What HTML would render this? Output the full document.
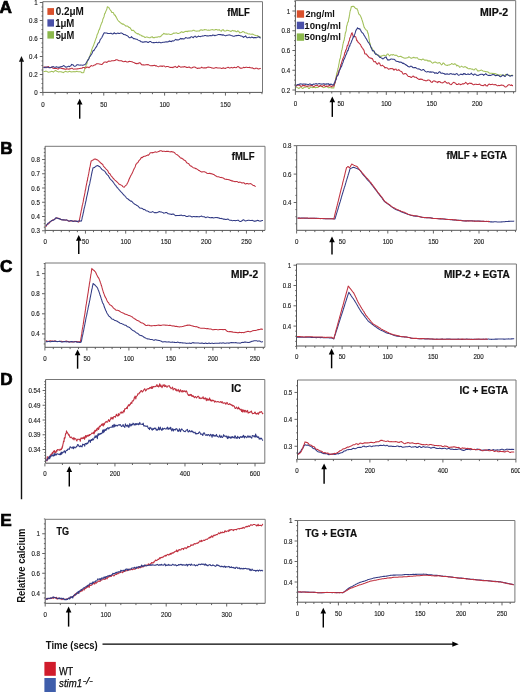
<!DOCTYPE html>
<html><head><meta charset="utf-8"><style>
html,body{margin:0;padding:0;background:#fff;}
body{width:520px;height:692px;overflow:hidden;}
svg{display:block;filter:blur(0.35px);}
text{font-family:"Liberation Sans",sans-serif;}
.tk{font-size:7.1px;fill:#222;stroke:#222;stroke-width:0.15px;}
.ttl{font-size:10px;font-weight:bold;fill:#111;}
.lg{font-size:9.8px;font-weight:bold;fill:#111;}
.big{font-size:17.2px;font-weight:bold;fill:#000;stroke:#000;stroke-width:0.7px;}
.ax{font-size:9.5px;font-weight:bold;fill:#000;}
.lgb{font-size:9.5px;fill:#000;}
</style></head><body>
<svg width="520" height="692" viewBox="0 0 520 692">
<rect width="520" height="692" fill="#fff"/>
<path d="M42.8 1.7H262.5V92.4" fill="none" stroke="#777" stroke-width="1"/>
<path d="M42.8 1.7V92.4H262.5" fill="none" stroke="#555" stroke-width="1"/>
<path d="M42.90 92.4v3.2M55.07 92.4v1.8M67.24 92.4v1.8M79.41 92.4v1.8M91.58 92.4v1.8M103.75 92.4v3.2M115.92 92.4v1.8M128.09 92.4v1.8M140.26 92.4v1.8M152.43 92.4v1.8M164.60 92.4v3.2M176.77 92.4v1.8M188.94 92.4v1.8M201.11 92.4v1.8M213.28 92.4v1.8M225.45 92.4v3.2M237.62 92.4v1.8M249.79 92.4v1.8M261.96 92.4v1.8" stroke="#555" stroke-width="0.9"/>
<path d="M42.8 92.50h-3.0M42.8 88.00h-1.3M42.8 83.50h-1.3M42.8 79.00h-1.3M42.8 74.50h-3.0M42.8 70.00h-1.3M42.8 65.50h-1.3M42.8 61.00h-1.3M42.8 56.50h-3.0M42.8 52.00h-1.3M42.8 47.50h-1.3M42.8 43.00h-1.3M42.8 38.50h-3.0M42.8 34.00h-1.3M42.8 29.50h-1.3M42.8 25.00h-1.3M42.8 20.50h-3.0M42.8 16.00h-1.3M42.8 11.50h-1.3M42.8 7.00h-1.3M42.8 2.50h-3.0" stroke="#555" stroke-width="0.9"/>
<text x="37.60" y="95.00" class="tk" text-anchor="end" textLength="3.43" lengthAdjust="spacingAndGlyphs">0</text>
<text x="37.60" y="77.00" class="tk" text-anchor="end" textLength="8.59" lengthAdjust="spacingAndGlyphs">0.2</text>
<text x="37.60" y="59.00" class="tk" text-anchor="end" textLength="8.59" lengthAdjust="spacingAndGlyphs">0.4</text>
<text x="37.60" y="41.00" class="tk" text-anchor="end" textLength="8.59" lengthAdjust="spacingAndGlyphs">0.6</text>
<text x="37.60" y="23.00" class="tk" text-anchor="end" textLength="8.59" lengthAdjust="spacingAndGlyphs">0.8</text>
<text x="37.60" y="5.00" class="tk" text-anchor="end" textLength="3.43" lengthAdjust="spacingAndGlyphs">1</text>
<text x="42.90" y="107.00" class="tk" text-anchor="middle" textLength="3.43" lengthAdjust="spacingAndGlyphs">0</text>
<text x="103.75" y="107.00" class="tk" text-anchor="middle" textLength="6.87" lengthAdjust="spacingAndGlyphs">50</text>
<text x="164.60" y="107.00" class="tk" text-anchor="middle" textLength="10.30" lengthAdjust="spacingAndGlyphs">100</text>
<text x="225.45" y="107.00" class="tk" text-anchor="middle" textLength="10.30" lengthAdjust="spacingAndGlyphs">150</text>
<path d="M43.50 71.60 44.21 71.52 44.91 71.51 45.62 71.13 46.33 71.15 47.04 71.54 47.74 71.91 48.45 72.25 49.16 72.03 49.86 72.03 50.57 71.81 51.28 71.31 51.98 71.44 52.69 71.53 53.40 72.12 54.11 71.45 54.81 70.86 55.52 70.50 56.23 70.83 56.93 71.39 57.64 71.62 58.35 71.89 59.05 71.65 59.76 71.75 60.47 71.73 61.18 71.73 61.88 72.11 62.59 72.17 63.30 72.67 64.00 72.06 64.71 71.72 65.42 71.32 66.12 71.46 66.83 71.84 67.54 72.00 68.25 71.92 68.95 71.51 69.66 71.31 70.37 71.76 71.07 71.81 71.78 72.03 72.49 71.82 73.19 71.65 73.90 71.61 74.61 71.85 75.32 71.72 76.02 71.63 76.73 71.26 77.44 71.59 78.14 71.82 78.85 71.84 79.56 71.67 80.26 71.77 80.97 71.97 81.68 72.63 82.39 72.80 83.09 72.72 83.80 72.51 84.04 71.12 84.28 70.52 84.52 69.66 84.76 69.22 85.00 68.06 85.24 67.30 85.49 66.61 85.73 66.63 85.97 65.68 86.21 64.77 86.45 63.83 86.69 64.09 86.93 63.97 87.17 62.73 87.41 61.01 87.65 60.29 87.89 59.93 88.13 59.64 88.38 59.14 88.62 58.97 88.86 58.65 89.10 57.79 89.34 56.94 89.58 56.66 89.82 56.10 90.06 55.46 90.30 54.51 90.54 53.27 90.78 52.81 91.02 52.25 91.27 52.14 91.51 50.61 91.75 49.52 91.99 48.94 92.23 48.32 92.47 47.78 92.71 47.16 92.95 46.63 93.19 46.44 93.43 45.66 93.67 45.30 93.91 44.29 94.16 43.66 94.40 43.06 94.64 42.62 94.88 41.60 95.12 40.80 95.36 40.11 95.60 39.62 95.84 38.84 96.08 38.15 96.32 37.87 96.56 37.32 96.80 36.03 97.04 34.94 97.29 34.36 97.53 33.98 97.77 33.73 98.01 32.83 98.25 32.58 98.49 31.20 98.73 30.60 98.97 29.77 99.21 29.75 99.45 29.52 99.69 28.78 99.93 27.85 100.18 27.00 100.42 26.40 100.66 25.65 100.90 25.02 101.14 24.35 101.38 23.73 101.62 23.20 101.86 22.53 102.10 22.41 102.34 21.62 102.58 20.69 102.82 19.39 103.07 18.64 103.31 18.34 103.55 17.68 103.79 17.12 104.03 16.70 104.27 15.44 104.51 14.38 104.75 13.29 104.99 13.41 105.23 13.11 105.47 12.27 105.71 11.67 105.96 11.02 106.20 10.33 106.44 10.14 106.68 9.50 106.92 8.82 107.16 7.48 107.40 6.67 107.89 7.33 108.38 7.16 108.88 7.62 109.37 8.43 109.86 9.38 110.35 10.02 110.85 10.54 111.34 11.61 111.83 12.56 112.32 12.38 112.82 12.59 113.31 12.63 113.80 13.78 114.19 14.75 114.58 14.71 114.97 15.42 115.37 15.32 115.76 16.80 116.15 16.70 116.54 17.71 116.93 18.43 117.33 19.38 117.72 19.96 118.11 20.44 118.50 21.10 119.13 21.44 119.75 22.06 120.38 22.72 121.01 23.08 121.64 23.82 122.26 23.66 122.89 24.40 123.52 24.01 124.15 24.77 124.77 25.13 125.40 25.68 126.03 26.24 126.65 26.06 127.28 26.02 127.91 26.43 128.54 27.00 129.16 27.54 129.79 27.40 130.42 28.42 131.05 29.31 131.67 30.51 132.30 30.34 132.93 30.56 133.55 30.28 134.18 31.16 134.81 32.00 135.44 32.48 136.06 33.11 136.69 33.37 137.32 33.98 137.95 33.45 138.57 33.98 139.20 34.42 139.90 35.02 140.60 34.98 141.30 35.35 142.00 36.14 142.70 35.99 143.40 36.41 144.10 36.64 144.80 37.53 145.50 37.41 146.20 37.04 146.96 37.05 147.71 37.25 148.47 37.60 149.22 37.83 149.98 37.85 150.73 37.33 151.49 36.97 152.24 36.67 153.00 37.62 153.70 37.59 154.40 37.70 155.10 37.26 155.80 37.18 156.50 37.14 157.20 37.28 157.90 36.82 158.60 36.85 159.30 36.68 160.00 36.90 160.76 36.21 161.52 35.80 162.28 34.64 163.04 34.29 163.80 33.29 164.52 33.99 165.23 33.87 165.95 34.32 166.67 33.90 167.39 34.14 168.10 33.91 168.82 33.94 169.54 34.35 170.26 34.44 170.97 34.44 171.69 34.15 172.41 34.00 173.12 33.45 173.84 32.95 174.56 33.21 175.28 33.03 175.99 32.94 176.71 32.84 177.43 33.41 178.14 33.50 178.86 33.36 179.58 33.12 180.30 32.72 181.01 32.01 181.73 31.72 182.45 32.20 183.17 32.38 183.88 32.23 184.60 31.70 185.32 31.35 186.03 31.46 186.75 31.26 187.47 31.67 188.19 30.97 188.90 31.28 189.62 30.91 190.34 30.93 191.06 30.94 191.77 30.94 192.49 30.76 193.21 30.24 193.92 30.29 194.64 30.67 195.36 31.02 196.08 31.04 196.79 31.24 197.51 31.03 198.23 31.09 198.94 30.99 199.66 30.92 200.38 29.92 201.10 29.88 201.81 30.02 202.53 30.40 203.25 29.93 203.97 30.01 204.68 29.52 205.40 29.67 206.13 29.83 206.85 30.08 207.58 30.16 208.31 30.04 209.03 30.29 209.76 30.28 210.48 30.04 211.21 29.86 211.94 29.71 212.66 29.58 213.39 30.06 214.12 30.10 214.84 30.00 215.57 29.54 216.29 29.48 217.02 29.79 217.75 30.12 218.47 30.01 219.20 29.58 219.91 30.31 220.62 30.88 221.33 31.32 222.05 29.97 222.76 29.88 223.47 29.88 224.18 31.07 224.89 31.06 225.60 30.96 226.32 30.70 227.03 30.11 227.74 30.45 228.45 30.44 229.16 30.82 229.87 30.95 230.58 31.39 231.30 31.25 232.01 30.76 232.72 30.40 233.43 30.87 234.14 30.99 234.85 30.70 235.57 31.26 236.28 31.69 236.99 31.68 237.70 30.80 238.39 31.13 239.08 31.86 239.77 32.85 240.46 32.77 241.15 32.42 241.84 32.15 242.53 31.51 243.22 31.69 243.91 31.76 244.60 32.62 245.29 32.78 245.98 32.91 246.67 33.05 247.36 33.49 248.05 33.84 248.74 33.93 249.43 33.89 250.12 34.08 250.81 34.19 251.50 34.20 252.22 34.03 252.93 34.23 253.65 34.63 254.36 35.04 255.08 35.25 255.79 35.53 256.51 35.66 257.22 35.54 257.94 35.81 258.65 36.33 259.37 36.99 260.08 37.04 260.80 37.00" fill="none" stroke="#a2c05a" stroke-width="1.05" stroke-linejoin="round"/>
<path d="M43.50 67.39 44.20 66.98 44.91 66.90 45.61 66.93 46.31 67.65 47.02 67.37 47.72 66.94 48.43 66.49 49.13 67.22 49.83 67.84 50.54 67.78 51.24 67.17 51.94 67.44 52.65 67.96 53.35 68.23 54.06 68.51 54.76 68.59 55.46 68.56 56.17 68.34 56.87 68.62 57.57 68.90 58.28 69.04 58.98 68.33 59.69 68.06 60.39 68.00 61.09 68.23 61.80 68.58 62.50 68.57 63.20 68.91 63.91 68.59 64.61 69.13 65.31 69.24 66.02 69.26 66.72 68.63 67.43 69.01 68.13 69.00 68.83 69.23 69.54 68.83 70.24 68.94 70.94 68.42 71.65 68.23 72.35 68.35 73.06 68.98 73.76 69.16 74.46 69.09 75.17 69.04 75.87 69.00 76.57 69.07 77.28 68.88 77.98 68.69 78.69 68.84 79.39 68.57 80.09 68.49 80.80 68.33 81.50 68.24 82.19 68.12 82.87 67.40 83.56 67.44 84.25 67.53 84.94 68.04 85.62 68.03 86.31 67.64 87.00 66.93 87.69 67.26 88.37 67.28 89.06 67.77 89.75 66.87 90.43 66.51 91.12 65.56 91.81 65.82 92.50 65.95 93.18 65.75 93.87 65.35 94.56 65.09 95.24 64.95 95.93 64.30 96.62 63.67 97.31 63.80 97.99 63.74 98.68 63.85 99.37 63.91 100.06 64.28 100.74 64.28 101.43 64.44 102.12 64.40 102.80 63.69 103.49 62.97 104.18 62.21 104.87 62.09 105.55 62.03 106.24 62.14 106.93 62.38 107.61 61.80 108.30 61.29 108.99 60.98 109.68 61.17 110.36 61.24 111.05 61.05 111.74 60.73 112.43 60.82 113.11 60.76 113.80 60.76 114.51 60.46 115.22 60.39 115.93 59.76 116.65 59.74 117.36 59.87 118.07 60.26 118.78 60.65 119.49 60.75 120.20 60.85 120.92 60.80 121.63 60.74 122.34 61.30 123.05 61.60 123.76 61.75 124.47 61.46 125.18 61.33 125.90 61.39 126.61 61.89 127.32 62.07 128.03 61.97 128.74 61.48 129.45 61.37 130.17 61.43 130.88 61.57 131.59 61.71 132.30 61.84 133.01 62.28 133.72 62.56 134.42 62.69 135.13 63.40 135.84 63.28 136.55 63.80 137.26 63.32 137.96 63.82 138.67 63.00 139.38 62.88 140.09 62.76 140.80 63.67 141.50 64.61 142.21 64.74 142.92 65.03 143.63 64.72 144.34 65.00 145.04 64.91 145.75 64.78 146.46 64.77 147.17 64.46 147.88 64.93 148.58 64.63 149.29 65.10 150.00 65.46 150.72 65.73 151.44 65.72 152.16 65.52 152.88 65.65 153.59 65.48 154.31 65.30 155.03 65.50 155.75 65.96 156.47 65.74 157.19 66.11 157.91 66.42 158.62 66.69 159.34 66.35 160.06 65.85 160.78 66.28 161.50 66.07 162.22 66.43 162.94 65.98 163.66 66.04 164.38 66.10 165.09 66.64 165.81 66.88 166.53 66.57 167.25 66.48 167.97 66.53 168.69 66.85 169.41 67.09 170.12 67.47 170.84 67.30 171.56 67.56 172.28 67.31 173.00 67.72 173.72 66.96 174.44 66.97 175.16 66.31 175.88 66.99 176.59 67.38 177.31 67.55 178.03 66.69 178.75 65.92 179.47 66.58 180.19 66.88 180.91 67.32 181.62 66.94 182.34 67.05 183.06 66.80 183.78 66.91 184.50 66.58 185.22 66.88 185.94 66.97 186.66 67.50 187.38 67.48 188.09 67.18 188.81 67.12 189.53 67.08 190.25 67.76 190.97 67.94 191.69 68.06 192.41 67.54 193.12 67.17 193.84 66.97 194.56 67.02 195.28 67.31 196.00 67.72 196.72 67.98 197.44 68.47 198.16 68.16 198.88 68.03 199.59 68.22 200.31 67.93 201.03 67.80 201.75 67.11 202.47 67.66 203.19 67.92 203.91 67.82 204.62 67.89 205.34 67.81 206.06 68.09 206.78 67.50 207.50 67.26 208.22 67.07 208.94 67.31 209.66 67.28 210.38 67.46 211.09 67.58 211.81 68.04 212.53 68.08 213.25 68.35 213.97 68.33 214.69 68.11 215.41 67.67 216.12 67.54 216.84 67.70 217.56 67.95 218.28 67.94 219.00 68.03 219.71 67.92 220.41 68.10 221.12 68.38 221.82 68.45 222.53 68.30 223.24 67.74 223.94 68.28 224.65 68.31 225.35 68.57 226.06 67.96 226.77 67.85 227.47 67.59 228.18 67.28 228.88 67.65 229.59 67.88 230.30 67.87 231.00 67.66 231.71 67.37 232.42 67.94 233.12 67.82 233.83 67.44 234.53 67.24 235.24 67.52 235.95 67.75 236.65 67.52 237.36 66.74 238.06 66.55 238.77 66.89 239.48 67.69 240.18 68.11 240.89 68.07 241.59 68.19 242.30 67.92 243.01 67.72 243.72 67.31 244.43 67.63 245.15 67.59 245.86 67.18 246.57 67.15 247.28 67.53 247.99 67.53 248.70 67.44 249.42 67.28 250.13 67.79 250.84 67.85 251.55 68.02 252.26 67.84 252.97 68.20 253.68 68.63 254.40 68.67 255.11 68.66 255.82 68.13 256.53 68.29 257.24 68.31 257.95 68.95 258.67 68.87 259.38 68.70 260.09 68.39 260.80 68.55" fill="none" stroke="#c0303f" stroke-width="1.05" stroke-linejoin="round"/>
<path d="M43.50 67.41 44.20 67.37 44.91 67.81 45.61 67.44 46.31 67.04 47.02 66.89 47.72 67.21 48.42 67.53 49.13 67.70 49.83 67.50 50.53 67.43 51.24 67.26 51.94 66.86 52.64 66.78 53.35 66.59 54.05 67.18 54.75 67.26 55.46 67.29 56.16 66.83 56.86 66.89 57.57 67.20 58.27 67.13 58.97 67.62 59.68 66.95 60.38 67.08 61.08 66.44 61.79 66.83 62.49 66.43 63.19 65.77 63.90 65.60 64.60 66.08 65.31 66.75 66.01 67.24 66.71 67.02 67.42 66.86 68.12 66.35 68.82 66.34 69.53 66.66 70.23 66.02 70.93 65.77 71.64 64.35 72.34 64.84 73.04 64.78 73.75 65.89 74.45 66.19 75.15 66.23 75.86 65.85 76.56 65.09 77.26 64.81 77.97 64.65 78.67 64.90 79.37 65.07 80.08 65.20 80.78 64.93 81.48 65.10 82.19 65.16 82.89 65.11 83.59 64.99 84.30 64.76 85.00 64.43 85.37 64.04 85.74 63.60 86.11 63.06 86.48 62.36 86.85 61.72 87.22 60.96 87.59 60.50 87.96 59.90 88.33 59.96 88.70 58.98 89.07 58.25 89.44 57.00 89.81 56.61 90.18 56.05 90.55 55.79 90.92 55.03 91.29 54.44 91.66 54.09 92.03 53.30 92.40 52.67 92.77 51.32 93.14 50.71 93.51 50.30 93.88 50.62 94.25 50.04 94.62 49.23 94.98 48.69 95.35 48.10 95.72 47.73 96.09 47.16 96.46 46.65 96.83 46.19 97.20 44.95 97.57 44.39 97.94 43.45 98.31 43.07 98.68 42.71 99.05 42.77 99.42 41.96 99.79 40.91 100.16 39.80 100.53 39.10 100.90 38.78 101.27 38.20 101.64 37.81 102.01 37.22 102.38 36.05 102.75 35.73 103.12 34.58 103.49 34.20 103.86 33.25 104.23 32.96 104.60 32.77 105.30 32.97 106.01 33.01 106.71 32.95 107.42 33.38 108.12 33.52 108.83 33.50 109.53 33.44 110.23 33.54 110.94 33.13 111.64 33.50 112.35 34.05 113.05 33.89 113.76 33.24 114.46 32.80 115.17 33.61 115.87 33.83 116.57 33.68 117.28 33.17 117.98 33.05 118.69 33.43 119.39 33.45 120.10 33.18 120.80 32.93 121.47 32.96 122.14 33.42 122.80 33.57 123.47 34.47 124.14 34.61 124.81 34.75 125.47 34.78 126.14 35.21 126.81 35.53 127.48 35.89 128.15 36.36 128.81 37.12 129.48 37.83 130.15 37.67 130.82 37.50 131.48 36.65 132.15 37.62 132.82 37.80 133.49 38.71 134.15 38.60 134.82 38.69 135.49 39.08 136.16 39.19 136.83 39.32 137.49 39.54 138.16 40.12 138.83 40.37 139.50 40.76 140.16 40.76 140.83 41.64 141.50 41.80 142.21 42.13 142.92 41.99 143.62 42.15 144.33 41.73 145.04 42.03 145.75 41.62 146.46 41.74 147.17 42.05 147.88 42.43 148.58 42.45 149.29 41.73 150.00 41.44 150.72 41.58 151.44 42.18 152.16 42.55 152.88 42.68 153.59 42.46 154.31 42.75 155.03 42.55 155.75 42.46 156.47 42.38 157.19 42.54 157.91 42.66 158.62 42.31 159.34 42.27 160.06 42.56 160.78 42.85 161.50 42.64 162.21 42.45 162.92 42.27 163.63 42.19 164.35 42.15 165.06 41.89 165.77 41.93 166.48 41.81 167.19 42.10 167.90 41.87 168.62 41.64 169.33 40.92 170.04 41.58 170.75 41.20 171.46 41.62 172.17 40.70 172.88 40.91 173.60 41.05 174.31 40.41 175.02 39.94 175.73 39.35 176.44 39.87 177.15 39.67 177.87 39.97 178.58 39.89 179.29 39.49 180.00 39.01 180.70 38.41 181.41 39.04 182.11 38.54 182.82 38.92 183.52 38.83 184.23 38.90 184.93 38.37 185.63 37.47 186.34 37.64 187.04 38.09 187.75 38.20 188.45 38.00 189.16 37.82 189.86 38.09 190.57 37.14 191.27 36.81 191.97 36.76 192.68 37.44 193.38 37.64 194.09 36.63 194.79 36.36 195.50 36.14 196.20 37.36 196.92 37.01 197.64 36.75 198.36 36.04 199.07 36.48 199.79 36.41 200.51 36.66 201.23 36.17 201.95 36.32 202.67 35.83 203.39 36.04 204.11 35.74 204.82 35.41 205.54 35.61 206.26 35.83 206.98 36.07 207.70 35.79 208.42 35.92 209.14 35.77 209.86 35.64 210.57 35.48 211.29 35.84 212.01 35.73 212.73 34.98 213.45 35.13 214.17 35.26 214.89 35.78 215.61 35.34 216.32 35.27 217.04 35.11 217.76 34.87 218.48 34.56 219.20 34.47 219.91 34.61 220.62 34.52 221.33 34.88 222.05 34.72 222.76 35.23 223.47 34.82 224.18 35.29 224.89 35.51 225.60 35.86 226.32 35.59 227.03 35.27 227.74 35.28 228.45 35.04 229.16 34.89 229.87 34.92 230.58 35.29 231.30 35.50 232.01 35.68 232.72 36.03 233.43 36.28 234.14 36.27 234.85 36.01 235.57 35.79 236.28 35.59 236.99 35.61 237.70 35.60 238.42 35.32 239.14 35.43 239.86 35.58 240.57 35.90 241.29 36.09 242.01 36.35 242.73 36.67 243.45 37.35 244.17 36.63 244.89 36.73 245.61 35.80 246.32 36.87 247.04 37.74 247.76 37.68 248.48 37.56 249.20 37.11 249.92 37.69 250.65 37.80 251.38 37.07 252.10 37.38 252.82 37.33 253.55 37.93 254.28 37.55 255.00 37.62 255.72 37.48 256.45 37.70 257.18 37.39 257.90 36.92 258.62 36.86 259.35 37.05 260.07 37.85 260.80 37.98" fill="none" stroke="#323b85" stroke-width="1.05" stroke-linejoin="round"/>
<path d="M295.4 0.6H515.7V91.7" fill="none" stroke="#777" stroke-width="1"/>
<path d="M295.4 0.6V91.7H515.7" fill="none" stroke="#555" stroke-width="1"/>
<path d="M295.40 91.7v3.2M304.49 91.7v1.8M313.58 91.7v1.8M322.67 91.7v1.8M331.76 91.7v1.8M340.85 91.7v3.2M349.94 91.7v1.8M359.03 91.7v1.8M368.12 91.7v1.8M377.21 91.7v1.8M386.30 91.7v3.2M395.39 91.7v1.8M404.48 91.7v1.8M413.57 91.7v1.8M422.66 91.7v1.8M431.75 91.7v3.2M440.84 91.7v1.8M449.93 91.7v1.8M459.02 91.7v1.8M468.11 91.7v1.8M477.20 91.7v3.2M486.29 91.7v1.8M495.38 91.7v1.8M504.47 91.7v1.8M513.56 91.7v1.8" stroke="#555" stroke-width="0.9"/>
<path d="M295.4 90.00h-3.0M295.4 85.06h-1.3M295.4 80.12h-1.3M295.4 75.19h-1.3M295.4 70.25h-3.0M295.4 65.31h-1.3M295.4 60.38h-1.3M295.4 55.44h-1.3M295.4 50.50h-3.0M295.4 45.56h-1.3M295.4 40.62h-1.3M295.4 35.69h-1.3M295.4 30.75h-3.0M295.4 25.81h-1.3M295.4 20.88h-1.3M295.4 15.94h-1.3M295.4 11.00h-3.0M295.4 6.06h-1.3M295.4 1.12h-1.3" stroke="#555" stroke-width="0.9"/>
<text x="290.20" y="92.50" class="tk" text-anchor="end" textLength="8.59" lengthAdjust="spacingAndGlyphs">0.2</text>
<text x="290.20" y="72.75" class="tk" text-anchor="end" textLength="8.59" lengthAdjust="spacingAndGlyphs">0.4</text>
<text x="290.20" y="53.00" class="tk" text-anchor="end" textLength="8.59" lengthAdjust="spacingAndGlyphs">0.6</text>
<text x="290.20" y="33.25" class="tk" text-anchor="end" textLength="8.59" lengthAdjust="spacingAndGlyphs">0.8</text>
<text x="290.20" y="13.50" class="tk" text-anchor="end" textLength="3.43" lengthAdjust="spacingAndGlyphs">1</text>
<text x="295.40" y="106.10" class="tk" text-anchor="middle" textLength="3.43" lengthAdjust="spacingAndGlyphs">0</text>
<text x="340.85" y="106.10" class="tk" text-anchor="middle" textLength="6.87" lengthAdjust="spacingAndGlyphs">50</text>
<text x="386.30" y="106.10" class="tk" text-anchor="middle" textLength="10.30" lengthAdjust="spacingAndGlyphs">100</text>
<text x="431.75" y="106.10" class="tk" text-anchor="middle" textLength="10.30" lengthAdjust="spacingAndGlyphs">150</text>
<text x="477.20" y="106.10" class="tk" text-anchor="middle" textLength="10.30" lengthAdjust="spacingAndGlyphs">200</text>
<path d="M296.00 86.96 296.70 87.31 297.40 87.63 298.10 88.04 298.80 88.48 299.50 88.14 300.20 87.13 300.90 86.77 301.60 87.55 302.30 88.46 303.00 88.45 303.70 87.76 304.40 87.23 305.10 87.26 305.80 87.16 306.50 86.81 307.20 86.21 307.90 87.30 308.60 88.49 309.30 88.59 310.00 87.56 310.70 87.02 311.40 87.00 312.10 87.65 312.80 87.55 313.50 87.45 314.20 87.45 314.90 87.28 315.60 87.70 316.30 87.28 317.00 87.37 317.70 87.40 318.40 87.18 319.10 86.69 319.80 85.88 320.50 85.70 321.20 86.05 321.90 86.74 322.60 87.17 323.30 87.59 324.00 87.63 324.70 87.36 325.40 86.96 326.10 86.24 326.80 86.44 327.50 86.82 328.20 87.67 328.90 87.69 329.60 87.47 330.30 87.61 331.00 87.65 331.70 87.94 332.40 87.83 333.10 87.89 333.80 88.07 333.95 87.01 334.10 86.14 334.25 84.78 334.39 84.02 334.54 83.94 334.69 84.08 334.84 83.65 334.99 82.65 335.14 81.77 335.29 81.33 335.44 80.85 335.58 79.38 335.73 78.23 335.88 77.30 336.03 77.48 336.18 77.03 336.33 75.92 336.48 74.66 336.63 73.72 336.77 73.04 336.92 72.94 337.07 72.26 337.22 71.86 337.37 71.38 337.52 71.27 337.67 70.68 337.82 69.11 337.96 68.17 338.11 67.90 338.26 67.60 338.41 67.19 338.56 66.01 338.71 65.29 338.86 64.13 339.01 63.55 339.15 63.11 339.30 62.03 339.45 61.19 339.60 60.16 339.75 59.74 339.90 58.98 340.05 58.46 340.20 58.60 340.34 58.21 340.49 57.38 340.64 55.55 340.79 55.28 340.94 54.51 341.09 54.31 341.24 52.64 341.39 51.91 341.53 50.88 341.68 50.58 341.83 50.06 341.98 49.73 342.13 49.11 342.28 48.00 342.43 47.76 342.58 46.77 342.72 45.77 342.87 44.57 343.02 43.84 343.17 43.41 343.32 42.67 343.47 42.32 343.62 41.58 343.77 40.96 343.91 40.63 344.06 40.54 344.21 39.85 344.36 38.75 344.51 37.80 344.66 37.15 344.81 36.65 344.96 35.97 345.10 34.53 345.25 33.60 345.40 32.66 345.55 32.95 345.70 32.07 345.85 31.71 346.00 31.51 346.15 30.69 346.29 29.59 346.44 27.75 346.59 26.63 346.74 25.70 346.89 25.58 347.04 25.46 347.19 24.77 347.34 23.49 347.48 23.21 347.63 22.87 347.78 22.54 347.93 21.76 348.08 21.75 348.23 21.80 348.38 21.34 348.53 20.26 348.67 19.01 348.82 18.57 348.97 18.29 349.12 17.45 349.27 16.33 349.42 15.27 349.57 14.70 349.72 13.71 349.86 12.50 350.01 11.63 350.16 10.60 350.31 10.73 350.46 10.39 350.61 9.81 350.76 9.17 350.91 8.60 351.05 7.69 351.20 7.14 351.35 6.43 351.50 7.01 352.27 6.29 353.03 6.47 353.80 6.21 354.40 7.27 355.00 7.75 355.60 8.56 356.20 8.61 356.62 8.86 357.05 8.78 357.47 9.78 357.90 10.68 358.17 11.97 358.45 12.96 358.73 13.89 359.00 14.28 359.60 14.65 360.20 15.55 360.80 16.61 361.04 17.44 361.29 17.69 361.53 18.60 361.77 19.03 362.01 20.00 362.26 20.53 362.50 21.29 362.67 22.09 362.84 22.11 363.01 23.26 363.19 23.80 363.36 24.39 363.53 25.03 363.70 25.42 364.04 27.02 364.38 27.27 364.72 28.18 365.06 28.54 365.40 29.33 366.25 30.07 367.10 30.40 367.34 31.52 367.58 32.24 367.82 33.28 368.06 32.99 368.30 34.16 368.44 34.83 368.57 35.86 368.71 36.25 368.85 37.11 368.99 38.75 369.12 39.10 369.26 40.17 369.40 40.50 369.57 42.35 369.74 42.55 369.91 43.57 370.09 43.42 370.26 43.86 370.43 44.73 370.60 45.88 370.88 47.40 371.17 47.99 371.45 48.18 371.73 47.83 372.02 48.01 372.30 48.64 372.76 49.49 373.22 50.47 373.68 51.37 374.14 52.12 374.60 52.57 375.18 52.91 375.77 53.54 376.35 54.21 376.93 55.05 377.52 55.24 378.10 55.01 378.78 55.38 379.46 55.85 380.14 56.91 380.82 56.14 381.50 56.22 382.20 55.66 382.90 55.50 383.60 55.22 384.30 55.23 385.00 55.81 385.77 56.09 386.53 55.18 387.30 53.99 388.07 54.04 388.83 55.02 389.60 55.93 390.30 55.11 391.00 54.82 391.70 54.77 392.40 55.12 393.10 54.47 393.78 54.68 394.46 55.11 395.14 55.45 395.82 55.12 396.50 55.34 397.20 55.77 397.90 56.46 398.60 56.74 399.30 56.50 400.00 56.57 400.73 56.25 401.45 56.69 402.18 57.29 402.91 57.37 403.63 57.90 404.36 57.95 405.08 58.34 405.81 57.94 406.54 58.08 407.26 57.83 407.99 57.67 408.72 56.82 409.44 57.10 410.17 57.63 410.89 58.20 411.62 58.25 412.35 57.82 413.07 57.76 413.80 57.23 414.50 57.81 415.19 57.80 415.88 58.08 416.58 57.67 417.27 57.72 417.97 58.52 418.67 59.27 419.36 59.28 420.06 59.48 420.75 59.60 421.44 60.02 422.14 59.42 422.83 59.08 423.53 59.23 424.23 59.99 424.92 60.29 425.62 60.02 426.31 60.16 427.00 59.96 427.70 61.07 428.39 60.76 429.08 61.18 429.77 60.77 430.46 61.13 431.15 61.92 431.84 62.61 432.53 63.13 433.22 62.97 433.91 62.35 434.60 62.14 435.29 62.01 435.98 62.34 436.67 62.82 437.36 62.91 438.05 63.15 438.74 62.80 439.43 62.53 440.12 63.10 440.81 64.01 441.50 64.87 442.23 64.39 442.96 63.12 443.69 63.14 444.43 63.86 445.16 64.84 445.89 65.11 446.62 65.21 447.35 65.50 448.08 65.08 448.82 64.97 449.55 64.88 450.28 64.55 451.01 64.10 451.74 63.42 452.47 63.90 453.21 64.23 453.94 64.37 454.67 63.76 455.40 64.02 456.09 64.65 456.78 65.95 457.47 65.28 458.16 65.67 458.85 66.03 459.54 67.27 460.23 67.03 460.92 66.62 461.61 66.10 462.30 66.66 462.99 67.07 463.68 67.32 464.37 66.74 465.06 66.81 465.75 66.80 466.44 67.61 467.13 67.63 467.82 68.47 468.51 68.80 469.20 68.74 469.89 68.49 470.58 68.84 471.27 68.97 471.96 69.15 472.65 69.12 473.34 69.85 474.03 70.03 474.72 69.39 475.41 68.73 476.10 68.80 476.79 69.50 477.48 70.88 478.17 70.68 478.86 71.07 479.55 70.66 480.24 70.56 480.93 70.08 481.62 70.05 482.31 70.58 483.00 70.95 483.70 71.20 484.40 71.26 485.10 71.62 485.80 71.43 486.50 71.67 487.20 71.85 487.90 72.03 488.60 72.46 489.30 72.96 490.00 73.31 490.70 73.33 491.40 73.22 492.10 73.25 492.80 73.80 493.50 73.32 494.20 73.79 494.90 73.44 495.60 73.76 496.30 74.29 497.00 74.34 497.73 75.19 498.45 74.86 499.18 75.63 499.91 74.79 500.64 75.00 501.36 75.03 502.09 75.34 502.82 74.94 503.55 75.29 504.27 75.42 505.00 75.36 505.73 74.40 506.45 74.52 507.18 74.79 507.91 75.08 508.64 75.52 509.36 75.34 510.09 75.47 510.82 75.42 511.55 75.23 512.27 75.45 513.00 75.02" fill="none" stroke="#a2c05a" stroke-width="1.05" stroke-linejoin="round"/>
<path d="M296.00 86.33 296.70 85.91 297.40 84.99 298.10 84.84 298.80 85.34 299.50 85.08 300.20 85.83 300.90 86.16 301.60 86.24 302.30 85.98 303.00 84.91 303.70 85.68 304.40 85.54 305.10 86.08 305.80 85.85 306.50 86.26 307.20 86.24 307.90 86.23 308.60 85.89 309.30 86.04 310.00 85.66 310.70 85.86 311.40 85.21 312.10 85.43 312.80 86.03 313.50 86.67 314.20 86.43 314.90 85.90 315.60 85.57 316.30 85.45 317.00 85.14 317.70 85.69 318.40 86.34 319.10 86.55 319.80 86.02 320.50 85.56 321.20 86.02 321.90 86.40 322.60 86.45 323.30 85.34 324.00 84.83 324.70 85.93 325.40 86.24 326.10 86.66 326.80 85.94 327.50 86.26 328.20 86.20 328.90 85.70 329.60 85.41 330.30 86.05 331.00 86.25 331.70 86.86 332.40 85.78 333.10 85.94 333.80 85.75 334.03 85.96 334.25 85.02 334.48 84.46 334.70 83.58 334.93 83.03 335.16 82.33 335.38 81.25 335.61 80.56 335.83 79.73 336.06 78.48 336.29 78.03 336.51 77.05 336.74 76.78 336.96 76.01 337.19 75.90 337.41 75.57 337.64 75.44 337.87 74.16 338.09 73.20 338.32 72.62 338.54 72.45 338.77 72.51 339.00 71.08 339.22 70.54 339.45 69.65 339.67 69.45 339.90 68.53 340.13 68.17 340.35 67.08 340.58 66.10 340.80 64.57 341.03 64.48 341.26 63.88 341.48 63.35 341.71 62.01 341.93 61.43 342.16 60.69 342.39 60.23 342.61 59.50 342.84 59.06 343.06 58.18 343.29 57.72 343.51 57.08 343.74 56.76 343.97 56.16 344.19 55.75 344.42 54.34 344.64 53.42 344.87 52.39 345.10 52.66 345.32 51.66 345.55 51.02 345.77 50.01 346.00 49.74 346.23 49.61 346.45 48.90 346.68 48.64 346.90 47.19 347.13 46.08 347.36 45.49 347.58 45.43 347.81 45.50 348.03 44.48 348.26 43.83 348.49 42.61 348.71 42.21 348.94 41.21 349.16 41.25 349.39 40.30 349.61 39.17 349.84 37.78 350.07 37.44 350.29 37.36 350.52 36.97 350.74 36.02 350.97 35.26 351.20 34.54 351.42 33.83 351.65 33.34 351.87 33.33 352.10 32.65 352.44 33.94 352.78 34.77 353.12 36.05 353.46 36.53 353.80 36.73 354.40 36.59 355.00 36.57 355.60 36.66 355.84 37.26 356.09 37.75 356.33 39.17 356.57 40.02 356.81 40.74 357.06 40.26 357.30 40.73 357.73 41.46 358.15 42.45 358.57 42.83 359.00 42.97 359.77 43.90 360.53 44.64 361.30 46.59 361.75 47.12 362.20 47.82 362.65 48.18 363.10 48.96 363.38 49.73 363.67 49.81 363.95 50.24 364.23 51.33 364.52 52.44 364.80 53.85 365.28 53.84 365.77 54.11 366.25 53.87 366.73 54.87 367.22 55.00 367.70 56.04 368.43 56.51 369.15 57.83 369.88 57.78 370.60 58.20 371.18 58.09 371.75 58.73 372.32 58.53 372.90 59.70 373.47 61.04 374.03 61.84 374.60 61.79 375.37 61.56 376.13 62.95 376.90 63.92 377.62 64.13 378.35 63.02 379.07 62.76 379.80 63.59 380.38 65.22 380.96 65.81 381.54 65.67 382.12 65.37 382.70 65.31 383.43 66.27 384.15 66.54 384.88 67.93 385.60 67.55 386.33 67.76 387.05 67.79 387.77 68.37 388.50 69.30 389.20 69.07 389.90 68.80 390.60 68.61 391.30 68.73 392.00 68.36 392.67 68.99 393.33 69.13 394.00 70.24 394.67 69.31 395.33 69.17 396.00 69.06 396.67 70.25 397.33 70.27 398.00 70.34 398.67 69.60 399.33 70.24 400.00 70.88 400.66 71.33 401.31 71.55 401.97 71.94 402.63 73.32 403.29 74.06 403.94 74.14 404.60 73.59 405.26 73.41 405.91 73.63 406.57 74.39 407.23 75.01 407.89 76.09 408.54 76.47 409.20 76.48 409.89 76.61 410.58 76.99 411.27 77.54 411.96 76.99 412.65 76.25 413.34 76.06 414.03 76.76 414.72 77.27 415.41 77.34 416.10 77.28 416.79 77.79 417.48 78.57 418.17 78.89 418.86 79.43 419.55 79.14 420.24 79.42 420.93 78.82 421.62 79.48 422.31 79.39 423.00 79.96 423.70 80.16 424.40 80.21 425.10 80.61 425.80 80.69 426.50 80.85 427.20 80.43 427.90 80.03 428.60 79.93 429.30 80.16 430.00 80.51 430.70 81.75 431.40 82.13 432.10 82.50 432.80 81.39 433.50 81.07 434.20 80.84 434.90 81.29 435.60 81.30 436.30 82.03 437.00 81.90 437.73 82.66 438.45 81.49 439.18 81.75 439.91 81.58 440.63 82.47 441.36 82.75 442.08 82.83 442.81 82.91 443.54 82.19 444.26 81.96 444.99 81.24 445.72 82.13 446.44 82.54 447.17 83.32 447.89 82.94 448.62 82.74 449.35 83.47 450.07 84.37 450.80 84.63 451.51 84.47 452.22 83.44 452.92 82.87 453.63 82.33 454.34 82.58 455.05 83.05 455.75 83.29 456.46 84.56 457.17 84.56 457.88 84.54 458.58 83.69 459.29 83.92 460.00 84.23 460.71 84.73 461.42 84.37 462.12 84.15 462.83 83.53 463.54 84.07 464.25 83.55 464.95 83.10 465.66 82.27 466.37 82.96 467.08 83.61 467.78 84.40 468.49 83.50 469.20 83.35 469.90 83.10 470.60 83.42 471.30 83.26 472.00 83.74 472.70 84.38 473.40 84.68 474.10 84.64 474.80 84.29 475.50 84.33 476.20 84.19 476.90 84.58 477.60 84.55 478.30 84.51 479.00 84.30 479.70 84.13 480.40 84.91 481.10 85.13 481.80 85.49 482.50 85.52 483.20 85.82 483.90 85.20 484.60 84.71 485.30 84.54 486.00 85.66 486.70 85.87 487.40 85.86 488.10 84.90 488.80 84.22 489.50 84.07 490.20 84.62 490.90 84.59 491.60 84.40 492.30 84.12 493.01 84.49 493.73 84.75 494.44 84.81 495.16 84.42 495.87 84.73 496.58 85.36 497.30 85.74 498.01 85.70 498.72 85.35 499.44 85.62 500.15 85.47 500.87 85.11 501.58 85.11 502.29 85.30 503.01 85.28 503.72 85.75 504.43 86.12 505.15 87.02 505.86 87.05 506.58 86.64 507.29 85.97 508.00 85.17 508.72 84.69 509.43 84.86 510.14 85.07 510.86 85.57 511.57 84.91 512.29 85.68 513.00 85.54" fill="none" stroke="#c0303f" stroke-width="1.05" stroke-linejoin="round"/>
<path d="M296.00 85.28 296.70 85.14 297.40 84.56 298.10 84.66 298.80 84.37 299.50 84.18 300.20 83.83 300.90 83.95 301.60 83.99 302.30 84.35 303.00 84.02 303.70 84.04 304.40 83.95 305.10 84.42 305.80 84.07 306.50 84.19 307.20 84.31 307.90 84.84 308.60 84.59 309.30 84.12 310.00 83.85 310.70 84.20 311.40 84.85 312.10 84.88 312.80 84.44 313.50 84.06 314.20 84.18 314.90 84.10 315.60 83.74 316.30 83.64 317.00 84.15 317.70 84.00 318.40 83.71 319.10 83.65 319.80 83.64 320.50 84.00 321.20 83.96 321.90 84.31 322.60 83.95 323.30 83.82 324.00 83.75 324.70 84.18 325.40 83.93 326.10 84.39 326.80 83.74 327.50 83.96 328.20 83.61 328.90 84.45 329.60 84.32 330.30 84.49 331.00 84.00 331.70 84.43 332.40 84.81 333.10 84.86 333.80 84.77 334.07 83.27 334.34 83.06 334.61 82.66 334.88 82.32 335.15 81.00 335.42 80.10 335.69 79.81 335.95 79.87 336.22 79.36 336.49 77.76 336.76 76.54 337.03 76.09 337.30 75.64 337.57 75.57 337.84 75.07 338.11 75.06 338.38 74.41 338.65 73.06 338.92 71.77 339.19 70.74 339.46 70.13 339.73 69.86 339.99 69.47 340.26 68.84 340.53 68.27 340.80 67.54 341.07 66.94 341.34 66.82 341.61 66.18 341.88 65.56 342.15 64.26 342.42 63.27 342.69 63.03 342.96 62.49 343.23 61.70 343.50 60.45 343.76 59.71 344.03 59.26 344.30 59.14 344.57 58.17 344.84 57.82 345.11 56.87 345.38 56.22 345.65 55.43 345.92 54.71 346.19 54.60 346.46 53.80 346.73 53.28 347.00 51.94 347.27 51.09 347.54 50.60 347.80 50.82 348.07 50.51 348.34 49.42 348.61 48.79 348.88 47.48 349.15 46.77 349.42 45.99 349.69 46.22 349.96 45.50 350.23 44.03 350.50 43.64 350.77 43.37 351.04 43.04 351.31 41.95 351.57 41.54 351.84 40.36 352.11 40.05 352.38 39.35 352.65 38.86 352.92 38.11 353.19 36.66 353.46 37.04 353.73 36.27 354.00 36.92 354.27 35.71 354.54 34.94 354.81 33.91 355.08 33.25 355.35 32.38 355.61 31.28 355.88 30.81 356.15 30.04 356.42 29.67 356.69 29.22 356.96 28.94 357.23 28.69 357.50 27.76 358.20 28.66 358.90 28.44 359.60 29.29 359.98 28.93 360.37 29.85 360.75 30.24 361.13 31.38 361.52 31.81 361.90 32.44 362.31 32.93 362.73 33.00 363.14 33.49 363.56 34.12 363.97 35.22 364.39 35.65 364.80 36.35 365.28 37.35 365.77 38.19 366.25 38.66 366.73 39.43 367.22 40.41 367.70 41.44 368.03 42.03 368.36 42.27 368.69 42.60 369.01 43.24 369.34 43.82 369.67 44.48 370.00 44.91 370.33 45.86 370.66 46.47 370.99 47.32 371.31 47.80 371.64 48.78 371.97 49.46 372.30 50.39 372.74 50.96 373.18 50.82 373.61 50.77 374.05 50.91 374.49 52.01 374.93 53.48 375.36 53.87 375.80 54.39 376.48 54.09 377.16 54.71 377.84 54.98 378.52 55.94 379.20 56.70 379.90 57.53 380.60 57.35 381.30 57.93 382.00 58.21 382.70 58.90 383.40 58.65 384.10 58.05 384.80 57.56 385.50 57.16 386.20 57.02 386.77 58.71 387.35 59.11 387.93 60.27 388.50 59.84 389.35 59.94 390.20 59.50 391.05 59.04 391.90 59.08 392.60 59.20 393.30 59.21 394.00 59.35 394.70 59.64 395.40 60.51 396.06 61.16 396.71 61.18 397.37 61.52 398.03 61.58 398.69 61.76 399.34 62.31 400.00 61.93 400.66 62.14 401.31 62.26 401.97 62.71 402.63 63.42 403.29 63.07 403.94 63.77 404.60 63.78 405.26 64.75 405.91 64.58 406.57 65.42 407.23 65.56 407.89 66.41 408.54 66.58 409.20 67.04 409.89 66.77 410.58 66.14 411.27 66.28 411.96 66.57 412.65 67.42 413.34 67.71 414.03 67.55 414.72 67.62 415.41 67.46 416.10 67.92 416.79 68.44 417.48 68.76 418.17 69.01 418.86 68.76 419.55 69.23 420.24 69.45 420.93 70.12 421.62 70.18 422.31 69.95 423.00 69.59 423.70 69.60 424.40 70.46 425.10 71.21 425.80 71.62 426.50 71.99 427.20 71.77 427.90 71.59 428.60 71.66 429.30 71.79 430.00 72.35 430.70 71.74 431.40 72.24 432.10 72.00 432.80 72.02 433.50 72.28 434.20 72.58 434.90 73.37 435.60 72.86 436.30 72.76 437.00 73.39 437.73 73.52 438.45 72.60 439.18 71.89 439.91 71.82 440.63 72.94 441.36 73.13 442.08 73.27 442.81 73.09 443.54 73.60 444.26 73.48 444.99 74.42 445.72 73.96 446.44 74.12 447.17 73.79 447.89 74.19 448.62 74.26 449.35 74.29 450.07 73.57 450.80 73.66 451.51 73.78 452.22 74.28 452.92 74.16 453.63 73.97 454.34 74.34 455.05 74.75 455.75 74.01 456.46 73.60 457.17 73.74 457.88 74.57 458.58 75.27 459.29 75.06 460.00 74.66 460.71 74.05 461.42 74.52 462.12 74.37 462.83 74.80 463.54 73.54 464.25 74.09 464.95 73.46 465.66 74.49 466.37 74.45 467.08 74.29 467.78 74.11 468.49 73.97 469.20 74.54 469.93 74.30 470.65 73.95 471.38 73.18 472.11 74.33 472.83 74.62 473.56 75.20 474.28 73.95 475.01 74.34 475.74 74.28 476.46 75.25 477.19 75.27 477.92 75.48 478.64 75.29 479.37 74.70 480.09 74.63 480.82 74.25 481.55 74.23 482.27 74.38 483.00 74.55 483.70 75.45 484.40 74.41 485.10 74.28 485.80 73.56 486.50 74.52 487.20 74.90 487.90 75.36 488.60 75.55 489.30 75.30 490.00 75.37 490.70 75.51 491.40 75.10 492.10 74.90 492.80 74.38 493.50 74.62 494.20 74.79 494.90 75.28 495.60 75.73 496.30 75.44 497.00 75.39 497.73 75.05 498.45 75.45 499.18 75.72 499.91 76.57 500.64 76.84 501.36 76.35 502.09 75.64 502.82 74.92 503.55 75.27 504.27 76.04 505.00 76.56 505.73 75.75 506.45 74.70 507.18 74.05 507.91 74.91 508.64 75.31 509.36 75.81 510.09 76.20 510.82 75.93 511.55 75.55 512.27 75.60 513.00 76.04" fill="none" stroke="#323b85" stroke-width="1.05" stroke-linejoin="round"/>
<path d="M45.1 146.3H265V230.4" fill="none" stroke="#777" stroke-width="1"/>
<path d="M45.1 146.3V230.4H265" fill="none" stroke="#555" stroke-width="1"/>
<path d="M45.20 230.4v3.2M53.25 230.4v1.8M61.30 230.4v1.8M69.35 230.4v1.8M77.40 230.4v1.8M85.45 230.4v3.2M93.50 230.4v1.8M101.55 230.4v1.8M109.60 230.4v1.8M117.65 230.4v1.8M125.70 230.4v3.2M133.75 230.4v1.8M141.80 230.4v1.8M149.85 230.4v1.8M157.90 230.4v1.8M165.95 230.4v3.2M174.00 230.4v1.8M182.05 230.4v1.8M190.10 230.4v1.8M198.15 230.4v1.8M206.20 230.4v3.2M214.25 230.4v1.8M222.30 230.4v1.8M230.35 230.4v1.8M238.40 230.4v1.8M246.45 230.4v3.2M254.50 230.4v1.8M262.55 230.4v1.8" stroke="#555" stroke-width="0.9"/>
<path d="M45.1 230.75h-3.0M45.1 227.19h-1.3M45.1 223.62h-1.3M45.1 220.06h-1.3M45.1 216.50h-3.0M45.1 212.94h-1.3M45.1 209.38h-1.3M45.1 205.81h-1.3M45.1 202.25h-3.0M45.1 198.69h-1.3M45.1 195.12h-1.3M45.1 191.56h-1.3M45.1 188.00h-3.0M45.1 184.44h-1.3M45.1 180.88h-1.3M45.1 177.31h-1.3M45.1 173.75h-3.0M45.1 170.19h-1.3M45.1 166.62h-1.3M45.1 163.06h-1.3M45.1 159.50h-3.0M45.1 155.94h-1.3M45.1 152.38h-1.3M45.1 148.81h-1.3" stroke="#555" stroke-width="0.9"/>
<text x="39.90" y="233.25" class="tk" text-anchor="end" textLength="8.59" lengthAdjust="spacingAndGlyphs">0.3</text>
<text x="39.90" y="219.00" class="tk" text-anchor="end" textLength="8.59" lengthAdjust="spacingAndGlyphs">0.4</text>
<text x="39.90" y="204.75" class="tk" text-anchor="end" textLength="8.59" lengthAdjust="spacingAndGlyphs">0.5</text>
<text x="39.90" y="190.50" class="tk" text-anchor="end" textLength="8.59" lengthAdjust="spacingAndGlyphs">0.6</text>
<text x="39.90" y="176.25" class="tk" text-anchor="end" textLength="8.59" lengthAdjust="spacingAndGlyphs">0.7</text>
<text x="39.90" y="162.00" class="tk" text-anchor="end" textLength="8.59" lengthAdjust="spacingAndGlyphs">0.8</text>
<text x="45.20" y="244.30" class="tk" text-anchor="middle" textLength="3.43" lengthAdjust="spacingAndGlyphs">0</text>
<text x="85.45" y="244.30" class="tk" text-anchor="middle" textLength="6.87" lengthAdjust="spacingAndGlyphs">50</text>
<text x="125.70" y="244.30" class="tk" text-anchor="middle" textLength="10.30" lengthAdjust="spacingAndGlyphs">100</text>
<text x="165.95" y="244.30" class="tk" text-anchor="middle" textLength="10.30" lengthAdjust="spacingAndGlyphs">150</text>
<text x="206.20" y="244.30" class="tk" text-anchor="middle" textLength="10.30" lengthAdjust="spacingAndGlyphs">200</text>
<text x="246.45" y="244.30" class="tk" text-anchor="middle" textLength="10.30" lengthAdjust="spacingAndGlyphs">250</text>
<path d="M45.80 226.88 46.27 225.98 46.73 225.08 47.20 224.21 47.67 224.05 48.13 223.79 48.60 223.87 49.07 223.28 49.53 222.59 50.00 221.71 50.62 221.69 51.24 221.09 51.86 220.86 52.48 220.11 53.10 220.15 53.72 219.64 54.34 219.33 54.96 218.97 55.58 218.62 56.20 218.04 56.89 218.01 57.58 218.02 58.27 218.23 58.96 218.36 59.65 218.74 60.34 219.19 61.03 219.65 61.72 219.69 62.41 219.71 63.10 219.68 63.81 220.03 64.52 220.05 65.22 220.17 65.93 220.06 66.64 220.03 67.35 220.27 68.05 220.72 68.76 221.11 69.47 221.16 70.18 221.09 70.88 221.00 71.59 220.71 72.30 220.91 73.07 221.03 73.83 221.26 74.60 220.95 75.37 221.16 76.13 220.92 76.90 221.43 77.67 221.31 78.43 222.09 79.20 221.63 79.34 220.81 79.48 219.58 79.61 219.05 79.75 218.32 79.89 217.58 80.03 217.06 80.17 216.25 80.30 215.61 80.44 214.81 80.58 214.17 80.72 213.49 80.86 212.75 80.99 212.09 81.13 211.25 81.27 210.47 81.41 209.80 81.54 209.66 81.68 208.78 81.82 208.30 81.96 207.14 82.10 206.59 82.23 205.65 82.37 205.16 82.51 204.69 82.65 204.38 82.79 203.52 82.92 202.91 83.06 202.08 83.20 201.65 83.34 200.57 83.48 199.86 83.61 198.99 83.75 198.50 83.89 197.59 84.03 197.04 84.17 196.49 84.30 196.06 84.44 195.20 84.58 194.48 84.72 193.85 84.86 193.02 84.99 192.41 85.13 191.20 85.27 190.78 85.41 189.92 85.54 189.75 85.68 189.01 85.82 188.11 85.96 187.00 86.10 186.02 86.23 185.55 86.37 184.96 86.51 184.37 86.65 183.63 86.79 182.84 86.92 182.20 87.06 181.32 87.20 181.08 87.34 180.74 87.48 180.10 87.61 178.80 87.75 177.89 87.89 177.23 88.03 176.90 88.17 176.26 88.30 175.49 88.44 174.90 88.58 174.26 88.72 173.66 88.86 172.72 88.99 171.78 89.13 171.18 89.27 170.35 89.41 169.72 89.54 168.76 89.68 168.01 89.82 167.46 89.96 166.90 90.10 166.47 90.23 165.82 90.37 164.86 90.51 164.14 90.65 163.34 90.79 163.08 90.92 162.20 91.06 161.58 91.20 160.77 91.80 160.77 92.40 160.39 93.00 159.99 93.60 159.68 94.20 159.00 94.84 159.20 95.49 159.11 96.13 159.31 96.78 159.77 97.42 159.86 98.07 160.39 98.71 160.86 99.36 161.77 100.00 162.10 100.46 162.82 100.92 163.05 101.38 163.63 101.84 163.56 102.30 164.08 102.76 164.50 103.22 165.66 103.68 166.44 104.14 166.93 104.60 167.29 105.06 167.82 105.52 168.52 105.98 168.97 106.44 169.37 106.90 169.85 107.33 170.10 107.76 170.71 108.19 171.62 108.62 172.78 109.06 173.32 109.49 173.52 109.92 173.80 110.35 174.59 110.78 175.36 111.21 175.87 111.64 176.35 112.08 176.82 112.51 177.60 112.94 178.03 113.37 178.38 113.80 178.87 114.38 179.56 114.97 180.11 115.55 180.57 116.13 181.07 116.72 181.69 117.30 182.07 117.88 182.77 118.47 183.47 119.05 184.26 119.63 184.20 120.22 184.83 120.80 184.82 121.48 185.36 122.16 185.66 122.84 186.66 123.52 187.05 124.20 187.25 124.78 186.47 125.35 185.71 125.92 185.38 126.50 184.87 126.79 184.49 127.09 183.82 127.38 183.21 127.67 182.69 127.97 182.04 128.26 181.53 128.56 180.73 128.85 180.02 129.14 179.00 129.44 178.62 129.73 177.87 130.02 177.40 130.32 176.59 130.61 176.02 130.91 175.60 131.20 174.91 131.52 174.51 131.84 173.71 132.17 173.33 132.49 172.40 132.81 171.78 133.13 171.04 133.46 170.32 133.78 169.56 134.10 168.76 134.42 168.23 134.74 167.78 135.07 167.03 135.39 166.10 135.71 164.91 136.03 164.32 136.36 163.87 136.68 163.54 137.00 163.09 137.45 162.94 137.90 162.41 138.35 161.82 138.80 160.79 139.25 160.26 139.70 159.84 140.15 159.63 140.60 158.59 141.05 157.93 141.50 157.39 142.20 157.66 142.90 157.00 143.60 156.43 144.30 156.16 145.00 156.28 145.70 155.95 146.40 155.46 147.10 155.33 147.80 155.00 148.50 155.19 149.00 154.42 149.50 154.12 150.00 153.02 150.72 152.78 151.44 152.71 152.16 152.56 152.88 152.91 153.59 152.40 154.31 152.31 155.03 151.82 155.75 152.02 156.47 152.24 157.19 152.04 157.91 151.78 158.62 151.48 159.34 151.31 160.06 150.75 160.78 150.84 161.50 150.85 162.22 151.40 162.94 151.17 163.66 151.23 164.38 151.25 165.09 151.41 165.81 151.62 166.53 151.37 167.25 151.48 167.97 151.15 168.69 151.46 169.41 151.74 170.12 151.79 170.84 151.89 171.56 151.57 172.28 151.99 173.00 151.89 173.58 152.10 174.16 152.43 174.74 152.95 175.32 153.60 175.91 154.10 176.49 154.41 177.07 154.81 177.65 155.05 178.23 155.69 178.81 156.07 179.39 156.64 179.98 157.37 180.56 157.80 181.14 158.35 181.72 157.98 182.30 158.71 182.84 158.78 183.38 159.66 183.92 159.81 184.46 160.23 185.01 160.45 185.55 160.91 186.09 161.73 186.63 162.63 187.17 163.11 187.71 163.25 188.25 163.39 188.79 163.71 189.34 164.60 189.88 165.32 190.42 166.02 190.96 166.08 191.50 166.25 192.16 166.80 192.83 167.36 193.49 167.71 194.16 167.99 194.82 167.99 195.49 168.61 196.15 168.59 196.81 169.05 197.48 169.36 198.14 169.95 198.81 170.54 199.47 170.64 200.14 171.18 200.80 171.57 201.51 171.90 202.22 171.88 202.92 171.67 203.63 171.82 204.34 171.68 205.05 172.01 205.75 172.25 206.46 172.91 207.17 173.24 207.88 173.53 208.58 173.40 209.29 173.36 210.00 173.33 210.66 173.68 211.31 173.62 211.97 174.06 212.63 173.98 213.29 174.48 213.94 174.59 214.60 175.02 215.26 175.65 215.91 175.87 216.57 176.49 217.23 176.65 217.89 176.82 218.54 176.85 219.20 177.12 219.88 177.35 220.56 177.50 221.25 177.37 221.93 177.65 222.61 177.78 223.29 178.10 223.98 178.47 224.66 178.99 225.34 179.21 226.02 179.27 226.71 179.38 227.39 179.51 228.07 179.49 228.75 179.74 229.44 179.83 230.12 180.39 230.80 180.23 231.52 180.90 232.24 180.72 232.96 181.22 233.68 181.33 234.39 181.52 235.11 181.81 235.83 181.57 236.55 181.60 237.27 181.64 237.99 182.09 238.71 182.54 239.43 182.14 240.14 182.18 240.86 182.33 241.58 182.89 242.30 183.03 243.01 182.81 243.72 182.82 244.42 183.24 245.13 183.88 245.84 183.97 246.55 183.56 247.25 183.40 247.96 183.70 248.67 184.01 249.38 183.77 250.08 183.66 250.79 183.60 251.50 184.11 252.20 184.70 252.90 185.17 253.60 185.53 254.30 185.64 255.00 186.22 255.70 186.51" fill="none" stroke="#c0303f" stroke-width="1.05" stroke-linejoin="round"/>
<path d="M45.80 225.79 46.32 225.48 46.85 224.92 47.38 224.25 47.90 223.30 48.42 223.01 48.95 222.65 49.48 222.44 50.00 222.02 50.62 221.25 51.24 220.91 51.86 220.43 52.48 220.36 53.10 220.11 53.72 220.01 54.34 219.58 54.96 218.87 55.58 218.04 56.20 217.74 56.89 218.17 57.58 218.29 58.27 218.61 58.96 218.48 59.65 218.94 60.34 219.00 61.03 219.43 61.72 219.83 62.41 219.86 63.10 219.91 63.81 219.73 64.52 220.06 65.22 219.97 65.93 220.06 66.64 219.89 67.35 220.37 68.05 220.69 68.76 220.95 69.47 220.94 70.18 220.85 70.88 220.44 71.59 220.72 72.30 220.91 73.07 221.47 73.83 221.26 74.60 221.03 75.37 220.97 76.13 221.25 76.90 221.37 77.67 221.64 78.43 220.96 79.20 220.90 79.97 220.71 80.73 221.16 81.50 220.95 81.65 220.10 81.80 219.64 81.95 219.02 82.09 218.27 82.24 217.16 82.39 216.61 82.54 216.22 82.69 215.84 82.84 214.88 82.99 214.35 83.14 213.45 83.28 213.02 83.43 212.37 83.58 211.78 83.73 210.97 83.88 209.87 84.03 209.07 84.18 208.43 84.33 207.80 84.47 207.40 84.62 206.96 84.77 206.08 84.92 205.74 85.07 204.81 85.22 204.40 85.37 203.22 85.52 202.84 85.66 202.08 85.81 201.47 85.96 201.02 86.11 200.41 86.26 199.45 86.41 198.45 86.56 197.60 86.71 197.04 86.85 196.33 87.00 195.85 87.15 195.18 87.30 194.61 87.45 193.83 87.60 192.96 87.75 192.28 87.89 191.56 88.04 191.33 88.19 190.37 88.34 189.85 88.49 189.00 88.64 187.95 88.79 186.90 88.94 185.95 89.08 186.00 89.23 185.25 89.38 184.92 89.53 184.18 89.68 183.92 89.83 183.20 89.98 182.22 90.13 181.45 90.27 180.68 90.42 180.16 90.57 179.60 90.72 178.84 90.87 177.95 91.02 177.04 91.17 176.46 91.32 175.61 91.46 174.80 91.61 173.96 91.76 173.48 91.91 172.97 92.06 171.88 92.21 171.23 92.36 170.55 92.51 170.48 92.65 169.50 92.80 168.80 92.95 168.06 93.10 167.82 93.76 167.76 94.41 167.53 95.07 166.93 95.73 166.50 96.39 165.92 97.04 165.64 97.70 165.47 98.28 165.90 98.85 166.38 99.42 166.51 100.00 166.95 100.58 167.77 101.15 168.40 101.72 169.28 102.30 169.66 102.88 169.96 103.45 170.38 104.02 170.68 104.60 171.19 105.03 171.54 105.46 172.24 105.89 173.12 106.32 173.61 106.76 174.24 107.19 174.60 107.62 175.06 108.05 175.37 108.48 175.91 108.91 176.79 109.34 177.62 109.78 178.32 110.21 178.83 110.64 179.26 111.07 179.83 111.50 180.22 111.94 180.63 112.38 181.07 112.81 181.57 113.25 182.29 113.69 182.79 114.12 183.52 114.56 184.18 115.00 184.75 115.44 185.35 115.88 185.62 116.31 186.37 116.75 186.86 117.19 187.82 117.62 187.86 118.06 188.44 118.50 188.99 119.01 189.57 119.52 190.16 120.03 190.65 120.54 191.62 121.06 191.92 121.57 192.46 122.08 192.98 122.59 193.58 123.10 194.19 123.61 194.66 124.12 195.35 124.63 195.65 125.14 196.27 125.66 196.79 126.17 197.59 126.68 198.08 127.19 198.46 127.70 198.73 128.28 199.25 128.86 199.73 129.44 200.28 130.03 200.65 130.61 201.12 131.19 201.07 131.77 201.43 132.35 201.94 132.93 202.82 133.51 203.10 134.09 203.72 134.68 204.11 135.26 204.57 135.84 204.66 136.42 205.19 137.00 205.54 137.66 205.82 138.31 206.44 138.97 207.20 139.63 207.90 140.29 208.12 140.94 208.32 141.60 208.15 142.26 208.45 142.91 208.89 143.57 209.61 144.23 209.37 144.89 209.70 145.54 210.19 146.20 210.78 146.96 210.90 147.72 211.11 148.48 211.51 149.24 212.00 150.00 212.20 150.71 212.34 151.42 212.16 152.12 211.87 152.83 211.57 153.54 212.13 154.25 212.44 154.95 212.86 155.66 212.49 156.37 212.75 157.08 212.62 157.78 212.30 158.49 212.00 159.20 211.55 159.93 211.74 160.65 212.02 161.38 212.10 162.11 212.29 162.83 212.40 163.56 213.15 164.28 213.07 165.01 212.92 165.74 212.46 166.46 212.57 167.19 212.90 167.92 213.74 168.64 213.84 169.37 214.11 170.09 213.94 170.82 214.17 171.55 214.44 172.27 214.03 173.00 214.23 173.70 213.97 174.40 214.90 175.10 215.34 175.80 215.80 176.50 215.54 177.20 215.48 177.90 215.41 178.60 215.58 179.30 215.56 180.00 215.37 180.70 215.30 181.40 215.11 182.10 215.59 182.80 215.68 183.50 215.62 184.20 215.41 184.90 215.58 185.60 216.08 186.30 216.46 187.00 216.54 187.73 216.46 188.45 216.00 189.18 216.01 189.91 215.98 190.63 216.15 191.36 216.72 192.08 216.88 192.81 216.68 193.54 216.47 194.26 216.55 194.99 216.86 195.72 216.63 196.44 216.63 197.17 216.60 197.89 216.73 198.62 216.76 199.35 216.88 200.07 216.54 200.80 216.35 201.51 216.06 202.22 216.42 202.92 216.66 203.63 216.79 204.34 216.81 205.05 217.23 205.75 217.63 206.46 217.41 207.17 217.00 207.88 216.98 208.58 217.27 209.29 217.44 210.00 217.63 210.71 217.78 211.42 217.60 212.12 217.61 212.83 217.62 213.54 217.93 214.25 217.78 214.95 217.64 215.66 217.48 216.37 217.60 217.08 217.75 217.78 217.57 218.49 217.93 219.20 218.00 219.90 218.47 220.61 218.45 221.31 218.33 222.02 218.80 222.72 218.67 223.43 219.32 224.13 219.09 224.83 219.39 225.54 219.39 226.24 219.57 226.95 219.29 227.65 219.10 228.36 219.19 229.06 219.88 229.77 220.15 230.47 220.35 231.17 220.23 231.88 220.51 232.58 220.70 233.29 220.50 233.99 220.56 234.70 220.45 235.40 220.76 236.12 220.56 236.85 220.45 237.58 220.31 238.30 220.27 239.03 220.87 239.75 221.37 240.47 221.57 241.20 221.25 241.93 220.76 242.65 220.25 243.38 219.79 244.10 219.99 244.82 220.76 245.55 221.08 246.28 220.87 247.00 220.57 247.73 220.39 248.45 220.32 249.18 220.32 249.91 220.43 250.64 220.54 251.36 220.42 252.09 220.32 252.82 220.51 253.55 220.93 254.27 221.06 255.00 221.42 255.73 220.87 256.45 220.96 257.18 220.35 257.91 220.61 258.64 220.58 259.36 220.89 260.09 221.13 260.82 221.01 261.55 220.68 262.27 220.44 263.00 220.41" fill="none" stroke="#323b85" stroke-width="1.05" stroke-linejoin="round"/>
<path d="M296.7 145.6H516.3V230.3" fill="none" stroke="#777" stroke-width="1"/>
<path d="M296.7 145.6V230.3H516.3" fill="none" stroke="#555" stroke-width="1"/>
<path d="M296.60 230.3v3.2M305.72 230.3v1.8M314.84 230.3v1.8M323.96 230.3v1.8M333.08 230.3v1.8M342.20 230.3v3.2M351.32 230.3v1.8M360.44 230.3v1.8M369.56 230.3v1.8M378.68 230.3v1.8M387.80 230.3v3.2M396.92 230.3v1.8M406.04 230.3v1.8M415.16 230.3v1.8M424.28 230.3v1.8M433.40 230.3v3.2M442.52 230.3v1.8M451.64 230.3v1.8M460.76 230.3v1.8M469.88 230.3v1.8M479.00 230.3v3.2M488.12 230.3v1.8M497.24 230.3v1.8M506.36 230.3v1.8M515.48 230.3v1.8" stroke="#555" stroke-width="0.9"/>
<path d="M296.7 223.80h-1.3M296.7 216.70h-1.3M296.7 209.60h-1.3M296.7 202.50h-3.0M296.7 195.40h-1.3M296.7 188.30h-1.3M296.7 181.20h-1.3M296.7 174.10h-3.0M296.7 167.00h-1.3M296.7 159.90h-1.3M296.7 152.80h-1.3M296.7 145.70h-3.0" stroke="#555" stroke-width="0.9"/>
<text x="291.50" y="205.00" class="tk" text-anchor="end" textLength="8.59" lengthAdjust="spacingAndGlyphs">0.4</text>
<text x="291.50" y="176.60" class="tk" text-anchor="end" textLength="8.59" lengthAdjust="spacingAndGlyphs">0.6</text>
<text x="291.50" y="148.20" class="tk" text-anchor="end" textLength="8.59" lengthAdjust="spacingAndGlyphs">0.8</text>
<text x="296.60" y="244.30" class="tk" text-anchor="middle" textLength="3.43" lengthAdjust="spacingAndGlyphs">0</text>
<text x="342.20" y="244.30" class="tk" text-anchor="middle" textLength="6.87" lengthAdjust="spacingAndGlyphs">50</text>
<text x="387.80" y="244.30" class="tk" text-anchor="middle" textLength="10.30" lengthAdjust="spacingAndGlyphs">100</text>
<text x="433.40" y="244.30" class="tk" text-anchor="middle" textLength="10.30" lengthAdjust="spacingAndGlyphs">150</text>
<text x="479.00" y="244.30" class="tk" text-anchor="middle" textLength="10.30" lengthAdjust="spacingAndGlyphs">200</text>
<path d="M297.60 218.04 298.31 218.14 299.01 218.07 299.72 218.09 300.42 218.19 301.13 218.07 301.83 218.02 302.54 218.09 303.25 218.03 303.95 218.06 304.66 218.17 305.36 218.16 306.07 218.21 306.77 218.32 307.48 218.31 308.18 218.35 308.89 218.40 309.60 218.35 310.30 218.31 311.01 218.30 311.71 218.16 312.42 218.26 313.12 218.31 313.83 218.30 314.54 218.23 315.24 218.38 315.95 218.30 316.65 218.31 317.36 218.36 318.06 218.42 318.77 218.39 319.48 218.40 320.18 218.41 320.89 218.48 321.59 218.53 322.30 218.59 323.00 218.63 323.71 218.74 324.42 218.75 325.12 218.79 325.83 218.79 326.53 218.75 327.24 218.69 327.94 218.71 328.65 218.73 329.35 218.73 330.06 218.73 330.77 218.69 331.47 218.69 332.18 218.74 332.88 218.80 333.59 218.81 334.29 218.89 335.00 218.90 335.20 218.13 335.41 217.46 335.61 216.83 335.81 216.13 336.01 215.38 336.22 214.79 336.42 214.11 336.62 213.40 336.82 212.71 337.03 212.14 337.23 211.45 337.43 210.74 337.64 210.18 337.84 209.54 338.04 208.77 338.24 208.12 338.45 207.44 338.65 206.71 338.85 206.05 339.05 205.37 339.26 204.59 339.46 203.91 339.66 203.28 339.86 202.56 340.07 201.99 340.27 201.38 340.47 200.66 340.68 199.93 340.88 199.33 341.08 198.54 341.28 197.76 341.49 197.15 341.69 196.41 341.89 195.72 342.09 195.00 342.30 194.42 342.50 193.68 342.70 192.99 342.91 192.28 343.11 191.70 343.31 191.01 343.51 190.31 343.72 189.71 343.92 188.97 344.12 188.31 344.32 187.68 344.53 187.13 344.73 186.49 344.93 185.91 345.14 185.22 345.34 184.52 345.54 183.70 345.74 183.05 345.95 182.39 346.15 181.68 346.35 180.95 346.55 180.40 346.76 179.68 346.96 178.93 347.16 178.30 347.36 177.76 347.57 177.01 347.77 176.33 347.97 175.69 348.18 174.95 348.38 174.24 348.58 173.70 348.78 173.01 348.99 172.35 349.19 171.74 349.39 171.00 349.59 170.21 349.80 169.57 350.00 168.85 350.70 168.44 351.40 168.13 352.10 167.82 352.80 167.47 353.50 167.26 354.21 167.53 354.93 167.84 355.64 168.06 356.35 168.34 357.06 168.59 357.77 168.89 358.49 169.15 359.20 169.41 359.66 170.02 360.12 170.56 360.58 171.18 361.04 171.81 361.50 172.43 361.96 173.07 362.42 173.68 362.88 174.34 363.34 174.95 363.80 175.53 364.27 176.00 364.73 176.52 365.20 177.00 365.67 177.51 366.13 178.17 366.60 178.70 367.07 179.34 367.53 179.91 368.00 180.40 368.47 180.74 368.93 181.32 369.40 181.69 369.87 182.24 370.33 182.88 370.80 183.54 371.23 184.06 371.66 184.70 372.09 185.24 372.52 185.74 372.96 186.26 373.39 186.82 373.82 187.45 374.25 187.97 374.68 188.56 375.11 189.10 375.54 189.64 375.98 190.09 376.41 190.67 376.84 191.25 377.27 191.88 377.70 192.45 378.13 193.10 378.56 193.66 378.99 194.21 379.43 194.77 379.86 195.38 380.29 195.80 380.72 196.32 381.15 196.90 381.58 197.44 382.01 198.08 382.44 198.75 382.88 199.35 383.31 199.94 383.74 200.54 384.17 201.08 384.60 201.68 385.18 202.14 385.75 202.54 386.33 202.91 386.90 203.24 387.48 203.63 388.05 204.07 388.62 204.51 389.20 204.96 389.78 205.43 390.35 205.87 390.93 206.36 391.50 206.63 392.07 207.08 392.65 207.51 393.23 207.92 393.80 208.37 394.46 208.79 395.13 209.15 395.79 209.47 396.46 209.83 397.12 210.07 397.79 210.29 398.45 210.51 399.11 210.73 399.78 210.99 400.44 211.27 401.11 211.74 401.77 211.96 402.44 212.33 403.10 212.58 403.79 212.86 404.48 213.03 405.17 213.37 405.86 213.53 406.55 213.84 407.24 214.12 407.93 214.25 408.62 214.53 409.31 214.80 410.00 215.02 410.72 215.17 411.44 215.40 412.17 215.49 412.89 215.76 413.61 215.93 414.33 215.99 415.06 216.11 415.78 216.23 416.50 216.14 417.22 216.17 417.94 216.25 418.67 216.45 419.39 216.56 420.11 216.77 420.83 216.93 421.56 217.16 422.28 217.18 423.00 217.39 423.70 217.50 424.40 217.66 425.10 217.67 425.80 217.74 426.50 217.70 427.20 217.72 427.90 217.62 428.60 217.66 429.30 217.66 430.00 217.71 430.70 217.84 431.40 217.99 432.10 218.13 432.80 218.27 433.50 218.41 434.20 218.46 434.90 218.48 435.60 218.52 436.30 218.52 437.00 218.52 437.73 218.58 438.45 218.77 439.18 218.74 439.91 218.90 440.63 219.02 441.36 218.98 442.08 218.95 442.81 219.07 443.54 219.07 444.26 219.07 444.99 219.11 445.72 219.15 446.44 219.24 447.17 219.31 447.89 219.42 448.62 219.59 449.35 219.60 450.07 219.61 450.80 219.65 451.53 219.73 452.25 219.75 452.98 219.88 453.71 219.95 454.43 220.10 455.16 220.01 455.88 220.07 456.61 220.22 457.34 220.29 458.06 220.17 458.79 220.34 459.52 220.34 460.24 220.26 460.97 220.32 461.69 220.55 462.42 220.62 463.15 220.78 463.87 220.93 464.60 220.99 465.30 220.89 466.01 220.88 466.71 220.88 467.42 220.84 468.12 220.81 468.83 220.86 469.53 220.81 470.23 220.76 470.94 220.79 471.64 220.82 472.35 220.86 473.05 221.01 473.76 221.09 474.46 221.11 475.17 221.09 475.87 221.05 476.57 221.02 477.28 220.98 477.98 221.02 478.69 221.05 479.39 221.12 480.10 221.12 480.80 221.22 481.50 221.22 482.21 221.28 482.91 221.32 483.62 221.36 484.32 221.43 485.03 221.47 485.73 221.50 486.43 221.51 487.14 221.56 487.84 221.53 488.55 221.61 489.25 221.60 489.96 221.77 490.66 221.87 491.37 221.89 492.07 221.83 492.77 221.94 493.48 221.88 494.18 221.73 494.89 221.76 495.59 221.79 496.30 221.83 497.00 221.91 497.72 222.03 498.43 221.93 499.15 222.03 499.87 222.01 500.58 221.90 501.30 221.84 502.02 221.95 502.73 221.84 503.45 221.76 504.17 221.72 504.88 221.71 505.60 221.51 506.32 221.56 507.03 221.48 507.75 221.52 508.47 221.36 509.18 221.38 509.90 221.25 510.62 221.30 511.33 221.15 512.05 221.22 512.77 221.20 513.48 221.19 514.20 221.07" fill="none" stroke="#323b85" stroke-width="1.05" stroke-linejoin="round"/>
<path d="M297.60 218.11 298.31 218.09 299.02 218.18 299.73 218.12 300.44 218.15 301.15 218.24 301.86 218.27 302.57 218.23 303.28 218.23 303.99 218.26 304.70 218.08 305.41 218.10 306.12 218.06 306.83 218.04 307.54 217.98 308.25 218.16 308.96 218.19 309.67 218.17 310.38 218.34 311.09 218.39 311.80 218.34 312.51 218.35 313.22 218.38 313.93 218.24 314.64 218.26 315.35 218.35 316.05 218.40 316.76 218.39 317.47 218.54 318.18 218.59 318.89 218.58 319.60 218.56 320.31 218.67 321.02 218.58 321.73 218.56 322.44 218.52 323.15 218.52 323.86 218.54 324.57 218.55 325.28 218.68 325.99 218.71 326.70 218.71 327.41 218.73 328.12 218.83 328.83 218.76 329.54 218.75 330.25 218.75 330.96 218.66 331.67 218.71 332.38 218.80 333.09 218.95 333.80 219.04 333.97 218.44 334.14 217.74 334.31 217.06 334.48 216.27 334.65 215.59 334.82 214.99 334.99 214.19 335.15 213.40 335.32 212.68 335.49 212.02 335.66 211.29 335.83 210.67 336.00 210.09 336.17 209.45 336.34 208.74 336.51 207.98 336.68 207.31 336.85 206.60 337.02 205.97 337.19 205.38 337.36 204.63 337.53 203.98 337.69 203.29 337.86 202.60 338.03 201.87 338.20 201.30 338.37 200.64 338.54 199.91 338.71 199.10 338.88 198.45 339.05 197.79 339.22 197.02 339.39 196.44 339.56 195.87 339.73 195.00 339.90 194.30 340.07 193.61 340.23 192.93 340.40 192.18 340.57 191.58 340.74 190.78 340.91 190.13 341.08 189.45 341.25 188.76 341.42 188.03 341.59 187.52 341.76 186.93 341.93 186.23 342.10 185.55 342.27 184.90 342.44 184.04 342.61 183.30 342.77 182.65 342.94 181.94 343.11 181.31 343.28 180.69 343.45 179.97 343.62 179.25 343.79 178.72 343.96 178.01 344.13 177.38 344.30 176.75 344.47 176.04 344.64 175.25 344.81 174.53 344.98 173.86 345.15 173.10 345.31 172.40 345.48 171.73 345.65 171.07 345.82 170.29 345.99 169.62 346.16 169.04 346.33 168.34 346.50 167.72 347.25 167.10 348.00 166.43 348.50 166.94 349.00 167.43 349.50 167.84 349.88 167.27 350.27 166.75 350.65 165.95 351.03 165.30 351.42 164.75 351.80 164.08 352.45 164.37 353.10 164.78 353.75 165.13 354.40 165.39 355.05 165.72 355.70 165.94 356.35 166.18 357.00 166.46 357.45 167.00 357.91 167.59 358.36 168.28 358.81 168.80 359.27 169.34 359.72 169.93 360.17 170.46 360.63 170.87 361.08 171.41 361.53 171.98 361.99 172.51 362.44 173.05 362.89 173.56 363.35 174.15 363.80 174.68 364.27 175.18 364.73 175.73 365.20 176.41 365.67 176.83 366.13 177.36 366.60 177.86 367.07 178.30 367.53 178.73 368.00 179.38 368.47 179.90 368.93 180.44 369.40 180.98 369.87 181.50 370.33 182.02 370.80 182.52 371.23 183.07 371.66 183.80 372.09 184.36 372.52 184.93 372.96 185.52 373.39 186.13 373.82 186.63 374.25 187.23 374.68 187.84 375.11 188.38 375.54 188.92 375.98 189.58 376.41 190.17 376.84 190.75 377.27 191.43 377.70 192.10 378.13 192.60 378.56 193.11 378.99 193.58 379.43 194.15 379.86 194.74 380.29 195.34 380.72 195.92 381.15 196.48 381.58 196.96 382.01 197.46 382.44 198.02 382.88 198.63 383.31 199.39 383.74 199.99 384.17 200.60 384.60 201.21 385.18 201.70 385.75 202.01 386.33 202.50 386.90 203.04 387.48 203.37 388.05 203.77 388.62 204.18 389.20 204.48 389.78 204.85 390.35 205.36 390.93 205.84 391.50 206.34 392.07 206.76 392.65 207.15 393.23 207.51 393.80 207.84 394.46 208.05 395.13 208.47 395.79 208.74 396.46 209.15 397.12 209.51 397.79 209.76 398.45 210.05 399.11 210.41 399.78 210.61 400.44 210.81 401.11 211.27 401.77 211.45 402.44 211.68 403.10 211.87 403.79 212.17 404.48 212.31 405.17 212.72 405.86 213.08 406.55 213.45 407.24 213.74 407.93 214.12 408.62 214.39 409.31 214.56 410.00 214.83 410.72 215.01 411.44 215.18 412.17 215.29 412.89 215.51 413.61 215.63 414.33 215.65 415.06 215.76 415.78 215.84 416.50 215.94 417.22 216.11 417.94 216.38 418.67 216.45 419.39 216.69 420.11 216.83 420.83 217.00 421.56 217.13 422.28 217.34 423.00 217.42 423.70 217.40 424.40 217.41 425.10 217.52 425.80 217.56 426.50 217.62 427.20 217.79 427.90 217.85 428.60 217.79 429.30 217.80 430.00 217.88 430.70 217.94 431.40 218.11 432.10 218.23 432.80 218.41 433.50 218.43 434.20 218.42 434.90 218.48 435.60 218.53 436.30 218.56 437.00 218.61 437.73 218.71 438.45 218.69 439.18 218.68 439.91 218.63 440.63 218.63 441.36 218.68 442.08 218.67 442.81 218.77 443.54 218.90 444.26 219.10 444.99 219.26 445.72 219.38 446.44 219.49 447.17 219.52 447.89 219.50 448.62 219.47 449.35 219.51 450.07 219.53 450.80 219.53 451.53 219.59 452.25 219.64 452.98 219.68 453.71 219.72 454.43 219.88 455.16 219.89 455.88 219.99 456.61 220.13 457.34 220.29 458.06 220.27 458.79 220.36 459.52 220.43 460.24 220.53 460.97 220.54 461.69 220.69 462.42 220.68 463.15 220.70 463.87 220.77 464.60 220.80 465.30 220.89 466.01 220.94 466.71 220.97 467.42 220.84 468.12 220.90 468.83 220.82 469.53 220.97 470.23 221.01 470.94 221.09 471.64 221.01 472.35 221.01 473.05 220.98 473.76 221.02 474.46 221.11 475.17 221.24 475.87 221.26 476.57 221.26 477.28 221.25 477.98 221.14 478.69 221.20 479.39 221.24 480.10 221.18 480.80 221.20 481.51 221.30 482.22 221.29 482.92 221.37 483.63 221.30 484.34 221.33 485.05 221.41 485.75 221.34 486.46 221.21 487.17 221.39 487.88 221.40 488.58 221.37 489.29 221.42 490.00 221.58" fill="none" stroke="#c0303f" stroke-width="1.05" stroke-linejoin="round"/>
<path d="M45 263H264.9V347.3" fill="none" stroke="#777" stroke-width="1"/>
<path d="M45 263V347.3H264.9" fill="none" stroke="#555" stroke-width="1"/>
<path d="M44.90 347.3v3.2M53.30 347.3v1.8M61.70 347.3v1.8M70.10 347.3v1.8M78.50 347.3v1.8M86.90 347.3v3.2M95.30 347.3v1.8M103.70 347.3v1.8M112.10 347.3v1.8M120.50 347.3v1.8M128.90 347.3v3.2M137.30 347.3v1.8M145.70 347.3v1.8M154.10 347.3v1.8M162.50 347.3v1.8M170.90 347.3v3.2M179.30 347.3v1.8M187.70 347.3v1.8M196.10 347.3v1.8M204.50 347.3v1.8M212.90 347.3v3.2M221.30 347.3v1.8M229.70 347.3v1.8M238.10 347.3v1.8M246.50 347.3v1.8M254.90 347.3v3.2M263.30 347.3v1.8" stroke="#555" stroke-width="0.9"/>
<path d="M45 343.95h-1.3M45 338.92h-1.3M45 333.90h-3.0M45 328.88h-1.3M45 323.85h-1.3M45 318.82h-1.3M45 313.80h-3.0M45 308.77h-1.3M45 303.75h-1.3M45 298.72h-1.3M45 293.70h-3.0M45 288.67h-1.3M45 283.65h-1.3M45 278.62h-1.3M45 273.60h-3.0M45 268.57h-1.3M45 263.55h-1.3" stroke="#555" stroke-width="0.9"/>
<text x="39.80" y="336.40" class="tk" text-anchor="end" textLength="8.59" lengthAdjust="spacingAndGlyphs">0.4</text>
<text x="39.80" y="316.30" class="tk" text-anchor="end" textLength="8.59" lengthAdjust="spacingAndGlyphs">0.6</text>
<text x="39.80" y="296.20" class="tk" text-anchor="end" textLength="8.59" lengthAdjust="spacingAndGlyphs">0.8</text>
<text x="39.80" y="276.10" class="tk" text-anchor="end" textLength="3.43" lengthAdjust="spacingAndGlyphs">1</text>
<text x="44.90" y="360.50" class="tk" text-anchor="middle" textLength="3.43" lengthAdjust="spacingAndGlyphs">0</text>
<text x="86.90" y="360.50" class="tk" text-anchor="middle" textLength="6.87" lengthAdjust="spacingAndGlyphs">50</text>
<text x="128.90" y="360.50" class="tk" text-anchor="middle" textLength="10.30" lengthAdjust="spacingAndGlyphs">100</text>
<text x="170.90" y="360.50" class="tk" text-anchor="middle" textLength="10.30" lengthAdjust="spacingAndGlyphs">150</text>
<text x="212.90" y="360.50" class="tk" text-anchor="middle" textLength="10.30" lengthAdjust="spacingAndGlyphs">200</text>
<text x="254.90" y="360.50" class="tk" text-anchor="middle" textLength="10.30" lengthAdjust="spacingAndGlyphs">250</text>
<path d="M45.80 340.69 46.51 340.84 47.21 341.10 47.92 341.47 48.62 341.50 49.33 341.34 50.04 340.76 50.74 340.88 51.45 340.96 52.16 341.28 52.86 341.02 53.57 341.15 54.27 340.95 54.98 341.11 55.69 341.05 56.39 341.35 57.10 341.52 57.80 341.51 58.51 341.50 59.22 341.46 59.92 341.29 60.63 341.26 61.33 341.17 62.04 341.52 62.75 341.47 63.45 341.59 64.16 341.53 64.87 341.46 65.57 341.17 66.28 340.95 66.98 341.18 67.69 341.43 68.40 341.73 69.10 341.84 69.81 341.76 70.51 341.82 71.22 341.84 71.93 341.99 72.63 341.93 73.34 341.67 74.04 341.68 74.75 341.49 75.46 341.52 76.16 341.45 76.87 341.62 77.58 341.79 78.28 341.81 78.99 341.68 79.69 341.73 80.40 341.69 80.51 340.95 80.62 340.24 80.73 339.84 80.83 339.28 80.94 338.43 81.05 337.73 81.16 337.32 81.27 336.72 81.38 335.82 81.48 334.93 81.59 334.66 81.70 334.02 81.81 333.43 81.92 332.40 82.03 331.45 82.14 330.48 82.24 329.56 82.35 329.17 82.46 328.63 82.57 328.34 82.68 327.55 82.79 326.89 82.90 325.97 83.00 325.33 83.11 324.90 83.22 324.24 83.33 323.72 83.44 322.89 83.55 322.08 83.65 321.28 83.76 320.36 83.87 319.77 83.98 319.00 84.09 318.36 84.20 317.59 84.31 317.08 84.41 316.35 84.52 315.82 84.63 315.14 84.74 314.56 84.85 313.91 84.96 313.18 85.07 312.55 85.17 311.95 85.28 310.88 85.39 310.30 85.50 309.38 85.61 308.65 85.72 307.61 85.82 306.73 85.93 306.26 86.04 305.46 86.15 304.82 86.26 304.16 86.37 303.69 86.48 303.02 86.58 302.26 86.69 301.53 86.80 300.96 86.91 300.29 87.02 299.58 87.13 299.00 87.23 298.09 87.34 297.36 87.45 296.57 87.56 296.03 87.67 295.33 87.78 294.56 87.89 293.95 87.99 293.50 88.10 292.84 88.21 292.08 88.32 291.27 88.43 290.57 88.54 289.65 88.65 288.95 88.75 288.24 88.86 287.72 88.97 287.08 89.08 286.44 89.19 285.75 89.30 284.68 89.40 283.75 89.51 283.14 89.62 282.72 89.73 282.31 89.84 281.65 89.95 280.91 90.06 279.99 90.16 279.12 90.27 278.47 90.38 277.79 90.49 277.34 90.60 276.49 90.71 275.71 90.82 274.89 90.92 274.14 91.03 273.90 91.14 273.10 91.25 272.64 91.36 271.70 91.47 271.02 91.57 270.10 91.68 269.19 91.79 268.72 91.90 268.40 92.48 269.51 93.07 269.76 93.65 270.27 94.23 270.54 94.82 271.42 95.40 271.84 95.73 272.60 96.06 273.26 96.39 274.07 96.71 274.82 97.04 275.34 97.37 276.12 97.70 276.49 98.03 277.39 98.36 277.48 98.69 278.23 99.01 278.56 99.34 279.58 99.67 280.37 100.00 281.23 100.21 281.93 100.42 282.71 100.63 283.10 100.84 283.67 101.05 284.33 101.25 285.25 101.46 285.77 101.67 286.30 101.88 286.79 102.09 287.95 102.30 288.74 102.51 289.51 102.72 290.17 102.93 290.60 103.14 291.48 103.35 292.07 103.55 292.85 103.76 293.23 103.97 293.80 104.18 294.20 104.39 295.00 104.60 295.47 104.95 296.56 105.31 297.13 105.66 297.68 106.02 298.22 106.37 299.02 106.72 299.90 107.08 300.73 107.43 301.40 107.78 302.10 108.14 302.36 108.49 302.48 108.85 303.16 109.20 304.00 109.78 304.80 110.37 305.03 110.95 305.38 111.53 305.72 112.12 306.39 112.70 306.98 113.28 307.89 113.87 308.41 114.45 308.81 115.03 309.19 115.62 309.83 116.20 310.24 116.89 310.28 117.58 310.29 118.27 310.46 118.96 310.81 119.65 311.20 120.34 311.71 121.03 312.15 121.72 312.48 122.41 312.68 123.10 313.02 123.79 313.40 124.48 313.82 125.17 314.23 125.86 314.34 126.55 314.48 127.24 314.77 127.93 315.11 128.62 315.47 129.31 315.47 130.00 315.84 130.64 316.15 131.27 316.48 131.91 316.76 132.55 317.17 133.18 317.84 133.82 318.21 134.45 318.70 135.09 318.98 135.73 319.50 136.36 319.81 137.00 320.41 137.61 320.51 138.23 320.89 138.84 320.98 139.45 321.60 140.07 322.00 140.68 322.50 141.29 322.71 141.91 322.94 142.52 323.07 143.13 323.41 143.75 323.77 144.36 324.30 144.97 324.73 145.59 325.27 146.20 325.56 146.96 325.42 147.72 325.14 148.48 325.17 149.24 325.31 150.00 325.72 150.73 325.71 151.45 325.88 152.18 325.85 152.91 325.66 153.63 325.57 154.36 325.45 155.08 325.74 155.81 325.56 156.54 325.52 157.26 325.25 157.99 325.22 158.72 325.08 159.44 325.36 160.17 325.32 160.89 325.42 161.62 325.17 162.35 325.08 163.07 324.97 163.80 325.03 164.50 325.10 165.21 325.23 165.91 325.13 166.62 325.19 167.32 325.21 168.03 325.35 168.73 325.41 169.43 325.25 170.14 325.36 170.84 325.60 171.55 325.84 172.25 325.94 172.96 325.78 173.66 325.97 174.37 326.08 175.07 326.40 175.77 326.34 176.48 326.37 177.18 326.43 177.89 326.74 178.59 326.84 179.30 326.93 180.00 326.77 180.71 326.71 181.42 326.70 182.12 326.59 182.83 326.42 183.54 326.17 184.25 326.09 184.95 325.69 185.66 325.75 186.37 325.37 187.08 325.44 187.78 325.02 188.49 325.28 189.20 325.05 189.88 325.28 190.56 325.38 191.25 325.68 191.93 325.78 192.61 325.96 193.29 326.13 193.98 326.51 194.66 326.53 195.34 326.65 196.02 326.64 196.71 326.77 197.39 326.99 198.07 327.27 198.75 327.75 199.44 327.85 200.12 328.02 200.80 328.16 201.53 328.27 202.25 328.30 202.98 328.25 203.71 328.25 204.43 328.19 205.16 328.40 205.88 328.59 206.61 328.79 207.34 328.56 208.06 328.63 208.79 328.87 209.52 328.97 210.24 328.91 210.97 328.98 211.69 329.40 212.42 329.81 213.15 329.67 213.87 329.63 214.60 329.41 215.31 329.55 216.02 329.42 216.72 329.55 217.43 329.66 218.14 329.75 218.85 329.69 219.55 329.52 220.26 329.51 220.97 329.47 221.68 329.49 222.38 329.54 223.09 329.81 223.80 329.51 224.50 329.56 225.20 329.46 225.90 330.13 226.60 330.90 227.30 331.37 228.00 331.55 228.70 331.65 229.40 331.58 230.10 331.82 230.80 331.54 231.52 331.88 232.24 331.84 232.96 332.19 233.68 332.21 234.39 332.20 235.11 332.41 235.83 332.37 236.55 332.50 237.27 332.69 237.99 332.63 238.71 332.70 239.43 332.25 240.14 332.48 240.86 332.48 241.58 332.61 242.30 332.58 243.02 332.56 243.74 332.63 244.46 332.40 245.18 332.08 245.89 331.94 246.61 331.64 247.33 331.47 248.05 331.29 248.77 331.46 249.49 331.69 250.21 331.75 250.93 331.62 251.64 331.33 252.36 330.83 253.08 330.66 253.80 330.54 254.51 330.55 255.22 330.45 255.92 330.37 256.63 330.14 257.34 329.93 258.05 329.48 258.75 329.63 259.46 329.43 260.17 329.31 260.88 329.13 261.58 329.11 262.29 329.33 263.00 329.15" fill="none" stroke="#c0303f" stroke-width="1.05" stroke-linejoin="round"/>
<path d="M45.80 341.65 46.51 341.64 47.22 341.73 47.92 341.48 48.63 341.38 49.34 341.48 50.05 341.75 50.76 341.74 51.46 341.51 52.17 341.34 52.88 341.56 53.59 341.52 54.30 341.37 55.00 341.11 55.71 341.40 56.42 341.58 57.13 341.63 57.84 341.43 58.54 341.47 59.25 341.31 59.96 341.56 60.67 341.47 61.38 342.01 62.08 342.08 62.79 342.04 63.50 341.77 64.21 341.62 64.92 341.62 65.62 341.68 66.33 341.86 67.04 341.78 67.75 341.76 68.46 341.84 69.16 342.16 69.87 342.10 70.58 341.81 71.29 341.62 72.00 341.54 72.70 341.81 73.41 341.95 74.12 342.09 74.83 341.77 75.54 341.73 76.24 341.77 76.95 342.20 77.66 342.21 78.37 342.31 79.08 342.24 79.78 342.41 80.49 342.39 81.20 341.98 81.34 341.38 81.48 340.79 81.62 340.33 81.76 339.44 81.90 338.55 82.04 337.79 82.18 336.92 82.32 336.42 82.46 335.91 82.60 335.44 82.74 334.78 82.88 334.09 83.02 333.40 83.16 332.49 83.30 331.80 83.44 331.25 83.58 330.76 83.72 330.15 83.86 329.24 84.00 328.34 84.14 327.65 84.28 326.94 84.42 326.41 84.56 325.53 84.70 324.92 84.84 324.16 84.98 323.42 85.12 322.49 85.26 322.08 85.40 321.49 85.54 320.78 85.68 319.72 85.82 318.85 85.96 318.32 86.10 317.41 86.24 316.94 86.38 316.56 86.52 316.17 86.66 315.50 86.80 314.67 86.94 313.85 87.08 313.22 87.22 312.23 87.36 311.63 87.50 310.73 87.64 310.42 87.78 309.82 87.92 309.16 88.06 308.20 88.20 307.50 88.34 306.83 88.48 306.34 88.62 305.82 88.76 305.22 88.90 304.43 89.04 303.54 89.18 302.96 89.32 302.29 89.46 301.62 89.60 300.95 89.74 300.44 89.88 299.82 90.02 298.88 90.16 297.90 90.30 297.28 90.44 296.54 90.58 296.06 90.72 295.12 90.86 294.51 91.00 293.74 91.14 293.17 91.28 292.49 91.42 291.80 91.56 290.94 91.70 290.08 91.84 289.32 91.98 289.01 92.12 288.44 92.26 287.65 92.40 286.64 92.54 285.96 92.68 285.55 92.82 284.87 92.96 284.25 93.10 283.42 93.61 283.96 94.12 284.28 94.63 284.74 95.14 285.21 95.66 285.91 96.17 286.21 96.68 286.97 97.19 287.51 97.70 288.32 97.93 289.06 98.16 289.73 98.39 290.12 98.62 290.62 98.85 291.29 99.08 292.12 99.31 292.65 99.54 293.34 99.77 294.19 100.00 294.97 100.23 295.57 100.46 296.13 100.69 296.80 100.92 297.51 101.15 298.41 101.38 298.96 101.61 299.62 101.84 300.38 102.07 301.32 102.30 302.07 102.57 302.65 102.84 303.16 103.11 303.67 103.38 304.03 103.65 304.65 103.92 305.52 104.19 306.53 104.46 307.35 104.74 307.91 105.01 308.53 105.28 309.35 105.55 310.15 105.82 310.54 106.09 311.07 106.36 311.39 106.63 312.35 106.90 312.99 107.41 313.80 107.92 314.53 108.43 315.38 108.94 316.10 109.46 316.50 109.97 316.92 110.48 317.35 110.99 317.87 111.50 318.67 112.14 318.96 112.77 319.22 113.41 319.33 114.05 319.90 114.68 320.43 115.32 320.62 115.95 320.82 116.59 321.01 117.23 321.32 117.86 321.68 118.50 321.99 119.16 322.57 119.81 322.93 120.47 323.20 121.13 323.39 121.79 323.60 122.44 323.92 123.10 324.16 123.76 324.65 124.41 324.99 125.07 325.13 125.73 325.20 126.39 325.67 127.04 326.48 127.70 326.75 128.28 327.00 128.86 327.09 129.44 327.45 130.03 327.95 130.61 328.39 131.19 329.02 131.77 329.66 132.35 330.04 132.93 330.51 133.51 330.74 134.09 331.10 134.68 331.32 135.26 331.82 135.84 332.41 136.42 332.91 137.00 332.97 137.61 333.34 138.23 333.75 138.84 334.53 139.45 334.96 140.07 335.35 140.68 335.45 141.29 335.62 141.91 335.80 142.52 336.16 143.13 336.53 143.75 337.04 144.36 337.50 144.97 337.86 145.59 338.06 146.20 338.37 146.96 338.72 147.72 338.86 148.48 338.99 149.24 339.04 150.00 339.40 150.73 339.53 151.45 339.57 152.18 339.60 152.91 339.88 153.63 340.24 154.36 340.19 155.08 339.76 155.81 339.71 156.54 339.93 157.26 340.31 157.99 340.17 158.72 340.43 159.44 340.61 160.17 340.86 160.89 341.06 161.62 341.50 162.35 341.88 163.07 342.04 163.80 341.79 164.52 341.74 165.23 341.63 165.95 341.89 166.67 341.93 167.39 341.98 168.10 341.95 168.82 341.84 169.54 342.00 170.26 342.17 170.97 342.27 171.69 342.29 172.41 341.93 173.12 342.15 173.84 342.24 174.56 342.38 175.28 342.54 175.99 342.49 176.71 342.45 177.43 342.10 178.14 342.25 178.86 342.49 179.58 342.86 180.30 342.60 181.01 342.67 181.73 342.71 182.45 342.87 183.17 343.02 183.88 342.90 184.60 343.09 185.30 343.05 186.00 343.40 186.70 343.21 187.40 343.28 188.10 343.17 188.80 343.20 189.50 343.12 190.20 343.26 190.90 343.55 191.60 343.17 192.30 342.85 193.00 342.51 193.70 342.94 194.40 342.89 195.10 343.05 195.80 342.92 196.50 343.06 197.20 343.09 197.90 343.09 198.60 343.04 199.30 343.16 200.00 343.18 200.70 343.36 201.40 343.11 202.10 343.28 202.80 343.10 203.50 343.53 204.20 343.41 204.90 343.39 205.60 343.02 206.30 343.37 207.00 343.55 207.70 343.60 208.40 343.28 209.10 343.07 209.80 343.39 210.50 343.48 211.20 343.33 211.90 343.14 212.60 343.20 213.30 343.45 214.00 343.47 214.70 343.33 215.40 343.34 216.10 343.29 216.80 343.21 217.50 343.21 218.20 343.19 218.90 343.27 219.60 343.12 220.30 342.96 221.00 342.98 221.70 343.17 222.40 342.97 223.10 342.86 223.80 342.91 224.50 343.33 225.20 343.30 225.90 343.29 226.60 343.03 227.30 343.01 228.00 343.07 228.70 343.13 229.40 343.19 230.10 342.71 230.80 342.63 231.51 342.47 232.22 342.64 232.92 342.50 233.63 342.76 234.34 342.70 235.05 342.83 235.75 342.58 236.46 342.69 237.17 342.94 237.88 342.93 238.58 343.02 239.29 343.00 240.00 343.19 240.71 342.99 241.42 342.56 242.12 342.44 242.83 342.32 243.54 342.51 244.25 342.14 244.95 342.13 245.66 342.10 246.37 342.20 247.08 342.24 247.78 342.40 248.49 342.52 249.20 342.36 249.90 342.29 250.60 341.82 251.30 341.63 252.00 341.21 252.70 341.26 253.40 340.92 254.10 340.74 254.80 340.76 255.50 340.80 256.20 340.80 256.96 340.85 257.71 341.21 258.47 340.92 259.22 340.96 259.98 341.11 260.73 341.67 261.49 341.94 262.24 341.83 263.00 341.76" fill="none" stroke="#323b85" stroke-width="1.05" stroke-linejoin="round"/>
<path d="M296.5 264H516.4V346" fill="none" stroke="#777" stroke-width="1"/>
<path d="M296.5 264V346H516.4" fill="none" stroke="#555" stroke-width="1"/>
<path d="M296.60 346v3.2M305.70 346v1.8M314.80 346v1.8M323.90 346v1.8M333.00 346v1.8M342.10 346v3.2M351.20 346v1.8M360.30 346v1.8M369.40 346v1.8M378.50 346v1.8M387.60 346v3.2M396.70 346v1.8M405.80 346v1.8M414.90 346v1.8M424.00 346v1.8M433.10 346v3.2M442.20 346v1.8M451.30 346v1.8M460.40 346v1.8M469.50 346v1.8M478.60 346v3.2M487.70 346v1.8M496.80 346v1.8M505.90 346v1.8M515.00 346v1.8" stroke="#555" stroke-width="0.9"/>
<path d="M296.5 346.40h-1.3M296.5 341.33h-1.3M296.5 336.25h-1.3M296.5 331.18h-1.3M296.5 326.10h-3.0M296.5 321.03h-1.3M296.5 315.95h-1.3M296.5 310.88h-1.3M296.5 305.80h-3.0M296.5 300.73h-1.3M296.5 295.65h-1.3M296.5 290.58h-1.3M296.5 285.50h-3.0M296.5 280.43h-1.3M296.5 275.35h-1.3M296.5 270.28h-1.3M296.5 265.20h-3.0" stroke="#555" stroke-width="0.9"/>
<text x="291.30" y="328.60" class="tk" text-anchor="end" textLength="8.59" lengthAdjust="spacingAndGlyphs">0.4</text>
<text x="291.30" y="308.30" class="tk" text-anchor="end" textLength="8.59" lengthAdjust="spacingAndGlyphs">0.6</text>
<text x="291.30" y="288.00" class="tk" text-anchor="end" textLength="8.59" lengthAdjust="spacingAndGlyphs">0.8</text>
<text x="291.30" y="267.70" class="tk" text-anchor="end" textLength="3.43" lengthAdjust="spacingAndGlyphs">1</text>
<text x="296.60" y="359.30" class="tk" text-anchor="middle" textLength="3.43" lengthAdjust="spacingAndGlyphs">0</text>
<text x="342.10" y="359.30" class="tk" text-anchor="middle" textLength="6.87" lengthAdjust="spacingAndGlyphs">50</text>
<text x="387.60" y="359.30" class="tk" text-anchor="middle" textLength="10.30" lengthAdjust="spacingAndGlyphs">100</text>
<text x="433.10" y="359.30" class="tk" text-anchor="middle" textLength="10.30" lengthAdjust="spacingAndGlyphs">150</text>
<text x="478.60" y="359.30" class="tk" text-anchor="middle" textLength="10.30" lengthAdjust="spacingAndGlyphs">200</text>
<path d="M296.90 337.24 297.61 337.21 298.31 337.23 299.02 337.16 299.72 337.14 300.43 337.18 301.14 337.23 301.84 337.24 302.55 337.25 303.26 337.32 303.96 337.35 304.67 337.30 305.37 337.22 306.08 337.31 306.79 337.31 307.49 337.24 308.20 337.26 308.90 337.31 309.61 337.29 310.32 337.34 311.02 337.36 311.73 337.46 312.43 337.48 313.14 337.56 313.85 337.54 314.55 337.56 315.26 337.57 315.97 337.63 316.67 337.61 317.38 337.58 318.08 337.59 318.79 337.60 319.50 337.59 320.20 337.61 320.91 337.62 321.61 337.59 322.32 337.59 323.03 337.67 323.73 337.68 324.44 337.70 325.14 337.75 325.85 337.69 326.56 337.64 327.26 337.74 327.97 337.83 328.68 337.85 329.38 337.96 330.09 337.97 330.79 337.93 331.50 337.94 332.27 338.33 333.03 338.60 333.80 339.01 334.01 338.36 334.23 337.60 334.44 336.81 334.66 336.16 334.87 335.52 335.09 334.82 335.30 334.27 335.51 333.72 335.73 333.12 335.94 332.37 336.16 331.68 336.37 331.00 336.59 330.33 336.80 329.65 337.01 329.02 337.23 328.36 337.44 327.72 337.66 327.04 337.87 326.39 338.09 325.61 338.30 325.00 338.51 324.20 338.73 323.52 338.94 322.79 339.16 322.22 339.37 321.49 339.59 320.91 339.80 320.24 340.01 319.61 340.23 318.90 340.44 318.16 340.66 317.47 340.87 316.82 341.09 316.10 341.30 315.48 341.51 314.89 341.73 314.22 341.94 313.57 342.16 313.00 342.37 312.31 342.59 311.65 342.80 311.06 343.01 310.29 343.23 309.53 343.44 308.91 343.66 308.28 343.87 307.55 344.09 306.90 344.30 306.28 344.51 305.52 344.73 304.80 344.94 304.14 345.16 303.40 345.37 302.75 345.59 302.16 345.80 301.55 346.01 300.84 346.23 300.21 346.44 299.49 346.66 298.74 346.87 298.11 347.09 297.46 347.30 296.83 347.51 296.20 347.73 295.60 347.94 294.91 348.16 294.23 348.37 293.61 348.59 292.94 348.80 292.21 349.21 292.77 349.63 293.36 350.04 294.00 350.46 294.57 350.87 295.26 351.29 295.91 351.70 296.55 352.11 297.06 352.53 297.70 352.94 298.23 353.36 298.82 353.77 299.46 354.19 300.07 354.60 300.65 354.96 301.32 355.33 301.83 355.69 302.50 356.05 303.10 356.42 303.73 356.78 304.27 357.14 304.99 357.51 305.56 357.87 306.25 358.23 306.89 358.59 307.53 358.96 308.14 359.32 308.74 359.68 309.31 360.05 309.91 360.41 310.54 360.77 311.09 361.14 311.67 361.50 312.19 361.94 312.83 362.38 313.33 362.81 313.82 363.25 314.38 363.69 315.10 364.12 315.65 364.56 316.26 365.00 316.93 365.44 317.54 365.88 317.97 366.31 318.49 366.75 319.11 367.19 319.72 367.62 320.26 368.06 320.83 368.50 321.36 369.07 321.80 369.65 322.19 370.23 322.67 370.80 323.19 371.38 323.67 371.95 324.04 372.52 324.48 373.10 324.92 373.68 325.37 374.25 325.86 374.82 326.30 375.40 326.62 375.97 326.97 376.55 327.46 377.12 327.81 377.70 328.30 378.36 328.72 379.01 329.15 379.67 329.52 380.33 329.86 380.99 330.17 381.64 330.47 382.30 330.78 382.96 331.01 383.61 331.32 384.27 331.71 384.93 332.10 385.59 332.44 386.24 332.74 386.90 333.10 387.62 333.22 388.33 333.43 389.05 333.60 389.76 333.82 390.48 334.10 391.19 334.36 391.91 334.54 392.62 334.84 393.34 335.16 394.05 335.33 394.77 335.64 395.48 335.86 396.20 336.08 396.93 336.11 397.65 336.18 398.38 336.26 399.11 336.44 399.83 336.51 400.56 336.58 401.28 336.67 402.01 336.78 402.74 336.80 403.46 336.83 404.19 336.93 404.92 337.01 405.64 337.00 406.37 336.99 407.09 337.18 407.82 337.32 408.55 337.44 409.27 337.52 410.00 337.67 410.75 337.94 411.50 338.23 412.20 338.34 412.90 338.35 413.60 338.42 414.30 338.40 415.00 338.46 415.70 338.43 416.40 338.47 417.10 338.54 417.80 338.63 418.50 338.65 419.20 338.72 419.90 338.84 420.60 338.78 421.30 338.81 422.00 338.80 422.70 338.78 423.40 338.80 424.10 338.83 424.80 338.89 425.50 338.96 426.20 338.92 426.90 338.85 427.60 338.87 428.30 338.84 429.00 338.83 429.70 338.92 430.40 338.99 431.10 339.04 431.80 339.08 432.50 339.11 433.20 339.17 433.90 339.17 434.60 339.21 435.31 339.18 436.01 339.16 436.72 339.07 437.42 339.14 438.13 339.17 438.84 339.20 439.54 339.18 440.25 339.21 440.96 339.15 441.66 339.07 442.37 339.13 443.07 339.29 443.78 339.26 444.49 339.24 445.19 339.32 445.90 339.28 446.60 339.09 447.31 339.07 448.02 339.13 448.72 339.03 449.43 339.06 450.13 339.11 450.84 339.18 451.55 339.16 452.25 339.22 452.96 339.16 453.67 339.16 454.37 339.21 455.08 339.21 455.78 339.23 456.49 339.21 457.20 339.20 457.90 339.12 458.61 339.13 459.31 339.20 460.02 339.26 460.73 339.29 461.43 339.39 462.14 339.43 462.84 339.36 463.55 339.31 464.26 339.26 464.96 339.21 465.67 339.16 466.38 339.09 467.08 339.05 467.79 339.16 468.49 339.16 469.20 339.19 469.90 339.26 470.60 339.29 471.30 339.23 472.00 339.27 472.70 339.24 473.40 339.25 474.10 339.31 474.80 339.27 475.50 339.24 476.20 339.22 476.90 339.22 477.60 339.17 478.30 339.23 479.00 339.20 479.70 339.29 480.40 339.25 481.10 339.24 481.80 339.16 482.50 339.21 483.20 339.11 483.90 339.19 484.60 339.28 485.30 339.33 486.00 339.25 486.70 339.28 487.40 339.19 488.10 339.07 488.80 339.06 489.50 339.20 490.20 339.18 490.90 339.24 491.60 339.36 492.30 339.31 493.01 339.20 493.71 339.21 494.42 339.19 495.13 339.08 495.83 339.12 496.54 339.11 497.25 339.12 497.95 339.03 498.66 339.04 499.36 339.00 500.07 338.98 500.78 338.96 501.48 338.98 502.19 339.10 502.90 339.08 503.60 339.11 504.31 339.11 505.02 339.15 505.72 339.03 506.43 339.01 507.14 338.96 507.84 338.93 508.55 338.88 509.25 338.90 509.96 338.94 510.67 338.91 511.37 338.83 512.08 338.87 512.79 338.81 513.49 338.77 514.20 338.80" fill="none" stroke="#323b85" stroke-width="1.05" stroke-linejoin="round"/>
<path d="M296.90 336.56 297.61 336.54 298.31 336.61 299.02 336.64 299.72 336.55 300.43 336.64 301.14 336.65 301.84 336.73 302.55 336.79 303.26 336.94 303.96 336.92 304.67 336.97 305.37 336.86 306.08 336.86 306.79 336.75 307.49 336.76 308.20 336.80 308.90 336.79 309.61 336.78 310.32 336.74 311.02 336.81 311.73 336.79 312.43 336.85 313.14 336.90 313.85 337.03 314.55 337.00 315.26 337.05 315.97 337.06 316.67 337.07 317.38 337.05 318.08 336.98 318.79 337.00 319.50 336.96 320.20 336.94 320.91 336.98 321.61 337.07 322.32 337.07 323.03 337.21 323.73 337.34 324.44 337.38 325.14 337.38 325.85 337.45 326.56 337.36 327.26 337.30 327.97 337.30 328.68 337.31 329.38 337.25 330.09 337.28 330.79 337.35 331.50 337.23 332.27 337.69 333.03 338.13 333.80 338.54 333.99 337.83 334.17 337.21 334.36 336.53 334.55 335.92 334.74 335.21 334.92 334.57 335.11 333.92 335.30 333.19 335.48 332.37 335.67 331.72 335.86 330.94 336.04 330.21 336.23 329.61 336.42 328.95 336.61 328.30 336.79 327.68 336.98 327.07 337.17 326.27 337.35 325.55 337.54 324.88 337.73 324.22 337.91 323.48 338.10 322.84 338.29 322.15 338.48 321.48 338.66 320.77 338.85 320.14 339.04 319.46 339.22 318.83 339.41 318.13 339.60 317.41 339.78 316.74 339.97 316.06 340.16 315.40 340.35 314.75 340.53 314.07 340.72 313.40 340.91 312.75 341.09 312.01 341.28 311.27 341.47 310.55 341.65 309.81 341.84 309.14 342.03 308.53 342.22 307.86 342.40 307.25 342.59 306.63 342.78 305.97 342.96 305.26 343.15 304.65 343.34 304.00 343.52 303.27 343.71 302.58 343.90 301.79 344.09 301.06 344.27 300.35 344.46 299.73 344.65 299.02 344.83 298.46 345.02 297.84 345.21 297.13 345.39 296.41 345.58 295.75 345.77 295.06 345.96 294.33 346.14 293.72 346.33 293.01 346.52 292.35 346.70 291.70 346.89 291.06 347.08 290.36 347.26 289.72 347.45 289.03 347.64 288.30 347.83 287.52 348.01 286.80 348.20 286.13 348.68 286.67 349.16 287.22 349.65 287.86 350.13 288.45 350.61 289.03 351.09 289.63 351.57 290.26 352.05 290.89 352.54 291.49 353.02 292.08 353.50 292.62 353.82 293.14 354.13 293.73 354.45 294.40 354.77 295.02 355.08 295.68 355.40 296.39 355.72 297.09 356.03 297.68 356.35 298.35 356.67 299.06 356.98 299.78 357.30 300.47 357.62 301.13 357.93 301.80 358.25 302.43 358.57 303.03 358.88 303.59 359.20 304.22 359.57 304.75 359.94 305.34 360.31 305.94 360.67 306.61 361.04 307.20 361.41 307.83 361.78 308.43 362.15 309.04 362.52 309.58 362.88 310.19 363.25 310.77 363.62 311.27 363.99 311.85 364.36 312.51 364.73 313.16 365.09 313.82 365.46 314.50 365.83 315.15 366.20 315.71 366.66 316.18 367.12 316.68 367.58 317.21 368.04 317.80 368.50 318.29 368.96 318.93 369.42 319.48 369.88 320.16 370.34 320.65 370.80 321.23 371.26 321.78 371.72 322.37 372.18 322.84 372.64 323.34 373.10 323.92 373.71 324.32 374.33 324.66 374.94 324.98 375.55 325.36 376.17 325.74 376.78 326.07 377.39 326.45 378.01 326.80 378.62 327.29 379.23 327.66 379.85 328.03 380.46 328.46 381.07 328.86 381.69 329.21 382.30 329.51 382.96 329.91 383.61 330.17 384.27 330.59 384.93 330.88 385.59 331.27 386.24 331.59 386.90 331.91 387.56 332.20 388.21 332.52 388.87 332.87 389.53 333.14 390.19 333.50 390.84 333.82 391.50 334.23 392.22 334.34 392.93 334.54 393.65 334.71 394.36 334.88 395.08 334.98 395.79 335.19 396.51 335.38 397.22 335.51 397.94 335.71 398.65 335.87 399.37 336.06 400.08 336.32 400.80 336.51 401.51 336.59 402.22 336.71 402.92 336.83 403.63 336.81 404.34 336.86 405.05 336.89 405.75 336.99 406.46 337.04 407.17 337.19 407.88 337.32 408.58 337.49 409.29 337.53 410.00 337.65 410.75 337.96 411.50 338.31 412.20 338.31 412.90 338.45 413.60 338.39 414.30 338.38 415.00 338.39 415.70 338.37 416.40 338.33 417.10 338.40 417.80 338.47 418.50 338.54 419.20 338.66 419.90 338.68 420.60 338.64 421.30 338.59 422.00 338.62 422.70 338.57 423.40 338.60 424.10 338.69 424.80 338.83 425.50 338.78 426.20 338.80 426.90 338.84 427.60 338.85 428.30 338.90 429.00 338.97 429.70 338.95 430.40 339.02 431.10 338.99 431.80 338.94 432.50 339.00 433.20 339.06 433.90 339.14 434.60 339.24 435.31 339.30 436.01 339.27 436.72 339.39 437.42 339.32 438.13 339.28 438.84 339.31 439.54 339.26 440.25 339.15 440.96 339.14 441.66 339.18 442.37 339.09 443.07 339.22 443.78 339.30 444.49 339.25 445.19 339.26 445.90 339.27 446.60 339.19 447.31 339.18 448.02 339.22 448.72 339.20 449.43 339.23 450.13 339.20 450.84 339.21 451.55 339.17 452.25 339.23 452.96 339.21 453.67 339.23 454.37 339.24 455.08 339.28 455.78 339.20 456.49 339.20 457.20 339.24 457.90 339.26 458.61 339.27 459.31 339.28 460.02 339.26 460.73 339.21 461.43 339.14 462.14 339.12 462.84 339.11 463.55 339.20 464.26 339.19 464.96 339.17 465.67 339.18 466.38 339.22 467.08 339.16 467.79 339.23 468.49 339.21 469.20 339.25 469.91 339.31 470.62 339.40 471.33 339.37 472.05 339.50 472.76 339.44 473.47 339.41 474.18 339.33 474.89 339.33 475.60 339.27 476.32 339.20 477.03 339.14 477.74 339.22 478.45 339.10 479.16 339.09 479.87 339.20 480.58 339.22 481.30 339.16 482.01 339.32 482.72 339.32 483.43 339.21 484.14 339.16 484.85 339.15 485.57 339.10 486.28 339.07 486.99 339.13 487.70 339.16" fill="none" stroke="#c0303f" stroke-width="1.05" stroke-linejoin="round"/>
<path d="M45.6 379.5H264.8V463.2" fill="none" stroke="#777" stroke-width="1"/>
<path d="M45.6 379.5V463.2H264.8" fill="none" stroke="#555" stroke-width="1"/>
<path d="M44.90 463.2v3.2M62.41 463.2v1.8M79.92 463.2v1.8M97.43 463.2v1.8M114.94 463.2v3.2M132.45 463.2v1.8M149.96 463.2v1.8M167.47 463.2v1.8M184.98 463.2v3.2M202.49 463.2v1.8M220.00 463.2v1.8M237.51 463.2v1.8M255.02 463.2v3.2" stroke="#555" stroke-width="0.9"/>
<path d="M45.6 461.30h-1.3M45.6 458.35h-1.3M45.6 455.40h-1.3M45.6 452.45h-1.3M45.6 449.50h-3.0M45.6 446.55h-1.3M45.6 443.60h-1.3M45.6 440.65h-1.3M45.6 437.70h-1.3M45.6 434.75h-3.0M45.6 431.80h-1.3M45.6 428.85h-1.3M45.6 425.90h-1.3M45.6 422.95h-1.3M45.6 420.00h-3.0M45.6 417.05h-1.3M45.6 414.10h-1.3M45.6 411.15h-1.3M45.6 408.20h-1.3M45.6 405.25h-3.0M45.6 402.30h-1.3M45.6 399.35h-1.3M45.6 396.40h-1.3M45.6 393.45h-1.3M45.6 390.50h-3.0M45.6 387.55h-1.3M45.6 384.60h-1.3M45.6 381.65h-1.3" stroke="#555" stroke-width="0.9"/>
<text x="40.40" y="452.00" class="tk" text-anchor="end" textLength="12.02" lengthAdjust="spacingAndGlyphs">0.34</text>
<text x="40.40" y="437.25" class="tk" text-anchor="end" textLength="12.02" lengthAdjust="spacingAndGlyphs">0.39</text>
<text x="40.40" y="422.50" class="tk" text-anchor="end" textLength="12.02" lengthAdjust="spacingAndGlyphs">0.44</text>
<text x="40.40" y="407.75" class="tk" text-anchor="end" textLength="12.02" lengthAdjust="spacingAndGlyphs">0.49</text>
<text x="40.40" y="393.00" class="tk" text-anchor="end" textLength="12.02" lengthAdjust="spacingAndGlyphs">0.54</text>
<text x="44.90" y="476.30" class="tk" text-anchor="middle" textLength="3.43" lengthAdjust="spacingAndGlyphs">0</text>
<text x="114.94" y="476.30" class="tk" text-anchor="middle" textLength="10.30" lengthAdjust="spacingAndGlyphs">200</text>
<text x="184.98" y="476.30" class="tk" text-anchor="middle" textLength="10.30" lengthAdjust="spacingAndGlyphs">400</text>
<text x="255.02" y="476.30" class="tk" text-anchor="middle" textLength="10.30" lengthAdjust="spacingAndGlyphs">600</text>
<path d="M46.50 459.81 46.89 460.94 47.27 456.46 47.66 459.63 48.04 459.01 48.43 458.29 48.81 457.34 49.20 456.96 49.58 456.80 49.97 456.28 50.35 455.01 50.73 455.92 51.12 454.09 51.50 454.36 51.88 453.67 52.27 452.55 52.65 453.68 53.03 452.67 53.42 451.29 53.80 451.83 54.32 450.48 54.84 452.74 55.37 451.72 55.89 452.80 56.41 450.35 56.93 451.25 57.46 449.57 57.98 449.46 58.50 449.92 59.07 450.09 59.63 450.28 60.20 448.97 60.77 449.90 61.33 449.51 61.90 447.63 62.04 447.69 62.19 446.50 62.33 448.25 62.48 445.72 62.62 446.43 62.76 445.90 62.91 444.33 63.05 443.57 63.19 443.75 63.34 442.22 63.48 441.24 63.62 440.95 63.77 441.55 63.91 440.87 64.06 441.70 64.20 438.00 64.35 439.50 64.51 437.51 64.66 438.99 64.81 438.05 64.97 437.01 65.12 437.65 65.27 435.49 65.43 434.82 65.58 433.82 65.73 433.62 65.89 433.76 66.04 433.71 66.19 433.70 66.35 431.80 66.50 430.86 66.79 431.71 67.08 432.12 67.36 432.59 67.65 433.15 67.94 433.24 68.22 434.45 68.51 434.55 68.80 435.35 69.19 434.70 69.58 436.45 69.97 437.23 70.36 437.71 70.74 437.08 71.13 436.97 71.52 437.24 71.91 437.76 72.30 438.64 72.88 438.96 73.45 437.72 74.03 439.89 74.60 437.99 75.17 438.77 75.75 438.77 76.33 440.16 76.90 441.07 77.47 439.19 78.05 439.29 78.62 439.22 79.20 439.43 79.74 439.24 80.28 441.32 80.82 438.00 81.35 438.64 81.89 437.84 82.43 438.62 82.97 437.64 83.51 438.38 84.05 436.72 84.58 439.29 85.12 437.41 85.66 435.47 86.20 437.41 86.69 436.10 87.19 435.21 87.68 436.31 88.17 435.18 88.66 435.98 89.16 434.57 89.65 435.54 90.14 434.59 90.64 434.48 91.13 434.01 91.62 433.26 92.11 432.97 92.61 433.39 93.10 433.32 93.52 431.98 93.94 433.91 94.35 433.07 94.77 430.23 95.19 431.81 95.61 430.43 96.03 430.33 96.45 429.07 96.86 430.82 97.28 428.30 97.70 428.58 98.12 427.65 98.54 429.59 98.95 428.63 99.37 426.03 99.79 426.42 100.21 426.76 100.63 425.70 101.05 425.40 101.46 424.40 101.88 425.19 102.30 423.65 102.78 425.02 103.27 426.07 103.75 423.40 104.24 424.81 104.72 423.40 105.21 422.19 105.69 422.16 106.17 421.33 106.66 421.95 107.14 422.16 107.63 422.05 108.11 420.70 108.59 419.60 109.08 420.26 109.56 421.47 110.05 419.96 110.53 419.36 111.02 417.31 111.50 418.42 111.99 418.97 112.48 417.38 112.97 419.07 113.46 417.11 113.95 416.55 114.44 416.50 114.93 416.62 115.42 417.27 115.91 415.61 116.39 414.25 116.88 415.43 117.37 415.65 117.86 416.23 118.35 413.63 118.84 415.58 119.33 414.59 119.82 414.10 120.31 412.74 120.80 412.34 121.23 411.91 121.66 413.18 122.09 412.20 122.53 412.57 122.96 412.86 123.39 410.94 123.82 410.52 124.25 411.86 124.68 408.71 125.11 409.09 125.54 408.79 125.97 408.43 126.41 408.51 126.84 407.30 127.27 408.67 127.70 406.13 128.05 406.13 128.39 404.92 128.74 404.71 129.08 405.97 129.43 405.54 129.77 404.37 130.12 404.81 130.46 404.16 130.81 402.66 131.15 402.67 131.50 402.56 131.84 403.52 132.19 400.94 132.53 401.18 132.88 400.87 133.22 400.99 133.56 399.85 133.91 399.95 134.25 397.64 134.60 397.88 135.01 396.02 135.41 397.25 135.82 398.90 136.22 396.69 136.63 396.15 137.04 395.90 137.44 395.38 137.85 393.72 138.25 393.85 138.66 393.90 139.06 393.78 139.47 392.49 139.88 392.73 140.28 391.79 140.69 390.87 141.09 391.04 141.50 390.50 142.02 391.73 142.53 391.97 143.05 391.12 143.57 390.24 144.08 389.75 144.60 388.68 145.12 389.39 145.63 391.00 146.15 390.45 146.67 389.45 147.18 388.86 147.70 388.87 148.22 389.04 148.73 388.47 149.25 388.66 149.77 387.42 150.28 387.94 150.80 387.40 151.36 388.48 151.92 386.32 152.48 388.36 153.04 387.01 153.60 386.51 154.16 386.80 154.72 386.74 155.28 386.27 155.84 386.69 156.40 385.67 156.96 384.56 157.52 386.46 158.08 385.69 158.64 386.99 159.20 385.74 159.75 383.73 160.29 386.60 160.84 385.00 161.39 386.14 161.94 387.64 162.48 386.73 163.03 384.91 163.58 385.85 164.12 384.59 164.67 386.63 165.22 386.60 165.76 385.30 166.31 386.63 166.86 387.11 167.41 387.07 167.95 385.87 168.50 385.90 169.01 385.78 169.52 385.85 170.03 387.48 170.54 387.47 171.06 388.79 171.57 388.14 172.08 387.86 172.59 387.13 173.10 389.93 173.61 388.98 174.12 389.05 174.63 388.43 175.14 388.64 175.66 390.31 176.17 389.17 176.68 390.74 177.19 391.01 177.70 390.37 178.27 389.36 178.85 391.14 179.42 392.04 180.00 390.15 180.57 389.83 181.15 391.89 181.72 391.12 182.30 390.49 182.88 392.13 183.45 390.88 184.03 391.55 184.60 390.85 185.08 390.87 185.57 391.99 186.05 391.37 186.54 390.87 187.02 392.25 187.51 394.07 187.99 394.25 188.47 395.48 188.96 394.76 189.44 395.59 189.93 394.72 190.41 394.42 190.89 395.51 191.38 394.58 191.86 396.34 192.35 395.61 192.83 396.53 193.32 395.86 193.80 396.79 194.35 397.82 194.89 396.86 195.44 396.53 195.99 397.43 196.54 398.01 197.08 397.17 197.63 396.38 198.18 396.14 198.72 396.38 199.27 398.52 199.82 397.60 200.36 398.16 200.91 398.74 201.46 398.14 202.01 398.38 202.55 397.61 203.10 396.71 203.64 398.78 204.18 398.29 204.72 399.01 205.26 397.72 205.81 398.66 206.35 400.65 206.89 398.34 207.43 399.27 207.97 400.44 208.51 399.25 209.05 399.70 209.59 397.89 210.14 400.53 210.68 399.61 211.22 401.23 211.76 400.19 212.30 400.09 212.84 400.88 213.38 400.42 213.92 400.27 214.46 402.15 215.01 401.78 215.55 401.14 216.09 401.84 216.63 401.96 217.17 401.85 217.71 401.51 218.25 401.63 218.79 402.03 219.34 402.26 219.88 402.19 220.42 401.51 220.96 402.04 221.50 402.60 222.05 401.54 222.59 402.52 223.14 403.35 223.69 403.00 224.24 402.79 224.78 403.17 225.33 402.95 225.88 404.36 226.42 403.37 226.97 402.41 227.52 403.00 228.06 404.43 228.61 404.53 229.16 404.10 229.71 403.57 230.25 404.71 230.80 404.30 231.31 404.67 231.82 405.48 232.33 405.04 232.84 406.21 233.36 405.53 233.87 406.02 234.38 406.44 234.89 408.11 235.40 408.46 235.91 408.14 236.42 406.93 236.93 407.82 237.44 408.82 237.96 408.96 238.47 407.10 238.98 408.70 239.49 408.33 240.00 409.85 240.54 409.91 241.08 409.08 241.62 411.52 242.16 409.61 242.71 412.10 243.25 410.02 243.79 410.24 244.33 412.08 244.87 410.18 245.41 410.40 245.95 412.22 246.49 411.09 247.04 411.68 247.58 410.38 248.12 413.12 248.66 412.58 249.20 412.21 249.75 412.62 250.29 411.69 250.84 411.85 251.39 410.99 251.94 412.78 252.48 413.64 253.03 413.42 253.58 413.59 254.12 413.52 254.67 412.23 255.22 412.05 255.76 413.79 256.31 413.51 256.86 414.31 257.41 413.36 257.95 412.93 258.50 414.19 259.01 413.06 259.52 411.93 260.03 412.51 260.54 412.05 261.06 411.56 261.57 411.82 262.08 412.83 262.59 413.74 263.10 412.99" fill="none" stroke="#c0303f" stroke-width="1.05" stroke-linejoin="round"/>
<path d="M46.50 459.57 46.95 460.51 47.41 459.11 47.86 459.13 48.32 457.86 48.77 457.97 49.23 456.27 49.68 458.83 50.14 456.29 50.59 457.05 51.05 455.70 51.50 456.03 52.04 454.68 52.58 455.18 53.12 456.14 53.65 455.73 54.19 453.46 54.73 455.66 55.27 453.69 55.81 454.88 56.35 454.93 56.88 453.79 57.42 453.94 57.96 453.83 58.50 454.25 59.03 454.48 59.56 454.64 60.09 453.56 60.62 454.75 61.15 452.05 61.68 454.16 62.22 452.22 62.75 452.90 63.28 451.92 63.81 451.91 64.34 450.82 64.87 451.75 65.40 452.94 65.86 450.99 66.32 450.48 66.78 450.17 67.24 450.41 67.70 449.29 68.16 449.10 68.62 448.95 69.08 449.52 69.54 448.86 70.00 446.79 70.58 447.05 71.15 447.45 71.72 448.02 72.30 448.00 72.88 446.87 73.45 448.73 74.03 446.65 74.60 447.84 75.18 447.71 75.75 447.74 76.33 446.42 76.90 446.60 77.48 444.78 78.05 444.45 78.62 445.43 79.20 446.49 79.78 446.71 80.35 445.66 80.92 446.58 81.50 446.13 82.08 446.86 82.65 444.15 83.22 444.78 83.80 444.58 84.27 444.23 84.73 446.21 85.20 443.72 85.67 443.46 86.13 443.55 86.60 444.32 87.07 442.88 87.53 443.58 88.00 443.11 88.47 441.78 88.93 440.07 89.40 440.93 89.87 440.39 90.33 442.52 90.80 440.21 91.24 439.54 91.68 440.46 92.11 439.85 92.55 438.70 92.99 440.08 93.43 439.58 93.87 438.71 94.30 437.51 94.74 437.05 95.18 435.77 95.62 437.46 96.06 437.14 96.50 435.67 96.93 436.17 97.37 438.63 97.81 434.54 98.25 433.66 98.69 435.32 99.12 434.10 99.56 433.73 100.00 434.34 100.46 433.39 100.92 434.04 101.38 433.31 101.84 433.56 102.30 432.36 102.76 430.08 103.22 432.78 103.68 429.85 104.14 431.89 104.60 430.92 105.06 429.24 105.52 430.14 105.98 430.52 106.44 428.58 106.90 429.20 107.36 428.20 107.82 427.70 108.28 427.69 108.74 428.99 109.20 428.19 109.75 427.45 110.29 427.26 110.84 427.31 111.39 427.31 111.94 427.09 112.48 425.31 113.03 427.43 113.58 425.78 114.12 424.22 114.67 426.85 115.22 425.11 115.76 425.85 116.31 425.77 116.86 425.20 117.41 426.03 117.95 425.20 118.50 425.08 119.08 424.51 119.65 425.14 120.22 424.50 120.80 425.47 121.38 426.60 121.95 426.34 122.53 425.89 123.10 424.42 123.67 426.47 124.25 426.40 124.83 427.42 125.40 423.80 125.98 425.72 126.55 425.47 127.12 426.71 127.70 424.90 128.23 425.33 128.76 427.46 129.29 426.22 129.82 423.56 130.35 425.09 130.88 426.08 131.42 424.24 131.95 425.14 132.48 424.57 133.01 423.12 133.54 423.65 134.07 425.01 134.60 424.92 135.17 423.49 135.75 425.05 136.32 423.57 136.90 424.46 137.47 424.33 138.05 423.34 138.62 424.79 139.20 424.26 139.78 422.40 140.35 424.06 140.93 424.16 141.50 424.23 142.08 424.23 142.65 424.53 143.23 423.16 143.80 426.07 144.32 425.63 144.83 426.05 145.35 425.88 145.87 426.42 146.38 426.42 146.90 425.96 147.42 425.90 147.93 427.50 148.45 428.56 148.97 428.17 149.48 429.59 150.00 427.32 150.57 428.33 151.15 428.05 151.72 429.67 152.30 430.14 152.88 428.29 153.45 429.40 154.03 428.61 154.60 427.99 155.17 428.81 155.75 428.04 156.32 430.29 156.90 429.54 157.47 430.07 158.05 429.42 158.62 427.12 159.20 429.89 159.75 429.22 160.29 427.01 160.84 429.10 161.39 429.82 161.94 430.32 162.48 427.93 163.03 429.41 163.58 428.97 164.12 428.48 164.67 428.31 165.22 428.94 165.76 428.92 166.31 428.92 166.86 427.94 167.41 427.12 167.95 429.31 168.50 429.20 169.04 427.75 169.58 428.35 170.12 429.20 170.66 427.17 171.21 429.21 171.75 430.95 172.29 429.28 172.83 428.59 173.37 431.09 173.91 429.46 174.45 429.77 174.99 429.37 175.54 430.02 176.08 428.49 176.62 429.02 177.16 429.03 177.70 431.18 178.27 430.33 178.85 431.40 179.42 428.69 180.00 429.88 180.57 431.63 181.15 429.71 181.72 428.83 182.30 429.75 182.88 430.11 183.45 430.39 184.03 431.50 184.60 431.55 185.18 431.71 185.75 430.90 186.33 429.98 186.90 429.97 187.45 429.29 187.99 431.77 188.54 431.86 189.09 431.02 189.64 430.33 190.18 431.80 190.73 431.76 191.28 431.62 191.82 430.64 192.37 431.96 192.92 431.41 193.46 432.66 194.01 432.66 194.56 432.68 195.11 432.07 195.65 433.88 196.20 433.35 196.75 433.91 197.30 433.63 197.84 433.60 198.39 433.47 198.94 432.32 199.49 431.82 200.03 432.66 200.58 434.10 201.13 434.47 201.68 433.95 202.22 433.98 202.77 435.56 203.32 433.78 203.87 432.73 204.41 433.01 204.96 434.18 205.51 435.17 206.06 435.29 206.60 434.59 207.15 435.58 207.70 434.96 208.25 434.45 208.80 434.79 209.34 435.81 209.89 436.05 210.44 434.34 210.99 434.49 211.53 435.50 212.08 437.29 212.63 434.53 213.18 434.49 213.72 435.98 214.27 436.13 214.82 435.23 215.37 435.78 215.91 436.27 216.46 434.41 217.01 435.95 217.56 436.55 218.10 436.87 218.65 437.15 219.20 436.14 219.75 435.01 220.30 437.44 220.86 437.02 221.41 435.87 221.96 437.36 222.51 437.39 223.07 436.45 223.62 434.63 224.17 436.27 224.72 436.09 225.28 436.05 225.83 436.76 226.38 435.95 226.93 437.26 227.49 438.62 228.04 436.04 228.59 437.99 229.14 436.69 229.70 437.66 230.25 437.14 230.80 438.41 231.38 436.68 231.95 437.89 232.53 436.59 233.10 437.42 233.68 437.19 234.25 438.12 234.83 435.83 235.40 435.98 235.98 438.29 236.55 437.43 237.12 438.51 237.70 436.17 238.28 437.22 238.85 437.54 239.43 438.49 240.00 436.93 240.58 436.58 241.15 437.56 241.73 436.83 242.30 436.26 242.86 437.52 243.41 435.20 243.97 435.96 244.52 437.96 245.08 436.34 245.64 436.45 246.19 437.02 246.75 437.64 247.30 437.09 247.86 435.79 248.42 436.11 248.97 437.47 249.53 436.44 250.08 435.97 250.64 437.22 251.20 437.43 251.75 438.26 252.31 435.47 252.86 435.77 253.42 435.74 253.98 436.61 254.53 435.87 255.09 437.20 255.64 433.92 256.20 437.01 256.69 435.94 257.19 436.55 257.68 437.57 258.17 437.54 258.66 436.79 259.16 439.22 259.65 438.75 260.14 438.13 260.64 439.02 261.13 438.20 261.62 438.37 262.11 439.46 262.61 440.32 263.10 440.39" fill="none" stroke="#323b85" stroke-width="1.05" stroke-linejoin="round"/>
<path d="M297.5 380H516V459.3" fill="none" stroke="#777" stroke-width="1"/>
<path d="M297.5 380V459.3H516" fill="none" stroke="#555" stroke-width="1"/>
<path d="M296.90 459.3v3.2M315.15 459.3v1.8M333.40 459.3v1.8M351.65 459.3v1.8M369.90 459.3v3.2M388.15 459.3v1.8M406.40 459.3v1.8M424.65 459.3v1.8M442.90 459.3v3.2M461.15 459.3v1.8M479.40 459.3v1.8M497.65 459.3v1.8M515.90 459.3v3.2" stroke="#555" stroke-width="0.9"/>
<path d="M297.5 459.70h-1.3M297.5 452.97h-1.3M297.5 446.25h-3.0M297.5 439.52h-1.3M297.5 432.80h-1.3M297.5 426.07h-1.3M297.5 419.35h-3.0M297.5 412.62h-1.3M297.5 405.90h-1.3M297.5 399.18h-1.3M297.5 392.45h-3.0M297.5 385.73h-1.3" stroke="#555" stroke-width="0.9"/>
<text x="292.30" y="448.75" class="tk" text-anchor="end" textLength="8.59" lengthAdjust="spacingAndGlyphs">0.3</text>
<text x="292.30" y="421.85" class="tk" text-anchor="end" textLength="8.59" lengthAdjust="spacingAndGlyphs">0.4</text>
<text x="292.30" y="394.95" class="tk" text-anchor="end" textLength="8.59" lengthAdjust="spacingAndGlyphs">0.5</text>
<text x="296.90" y="472.80" class="tk" text-anchor="middle" textLength="3.43" lengthAdjust="spacingAndGlyphs">0</text>
<text x="369.90" y="472.80" class="tk" text-anchor="middle" textLength="10.30" lengthAdjust="spacingAndGlyphs">200</text>
<text x="442.90" y="472.80" class="tk" text-anchor="middle" textLength="10.30" lengthAdjust="spacingAndGlyphs">400</text>
<text x="515.90" y="472.80" class="tk" text-anchor="middle" textLength="10.30" lengthAdjust="spacingAndGlyphs">600</text>
<path d="M298.10 454.02 298.51 453.32 298.91 453.17 299.32 452.90 299.72 452.48 300.13 451.83 300.54 451.28 300.94 450.76 301.35 449.85 301.75 449.38 302.16 448.93 302.56 448.76 302.97 448.03 303.38 447.29 303.78 446.30 304.19 445.52 304.59 445.09 305.00 444.66 305.70 445.04 306.40 445.22 307.10 445.12 307.80 445.12 308.50 445.01 309.11 445.65 309.71 445.81 310.32 446.24 310.92 446.36 311.53 446.84 312.13 447.27 312.74 448.06 313.34 448.49 313.95 448.64 314.55 448.67 315.16 449.22 315.76 449.94 316.37 450.40 316.97 450.98 317.58 451.45 318.18 451.79 318.79 452.01 319.39 451.93 320.00 452.25 320.71 452.05 321.42 452.50 322.12 453.00 322.83 453.24 323.54 453.67 324.25 453.37 324.95 453.89 325.66 453.48 326.37 453.69 327.08 453.79 327.78 454.26 328.49 454.61 329.20 454.61 329.92 454.60 330.63 454.49 331.35 454.26 332.06 454.12 332.78 454.12 333.49 454.08 334.21 454.17 334.92 454.41 335.64 454.22 336.35 453.98 337.07 453.56 337.78 453.81 338.50 453.87 339.16 453.51 339.81 453.22 340.47 452.93 341.13 452.77 341.79 452.77 342.44 452.51 343.10 451.98 343.76 451.15 344.41 450.95 345.07 450.87 345.73 450.77 346.39 450.14 347.04 449.87 347.70 449.68 348.42 449.62 349.14 449.42 349.86 449.41 350.57 449.49 351.29 449.46 352.01 449.08 352.73 448.51 353.45 448.37 354.17 448.48 354.89 448.77 355.61 448.65 356.32 448.24 357.04 447.89 357.76 447.49 358.48 447.48 359.20 447.17 359.93 447.50 360.65 447.36 361.38 447.30 362.10 446.86 362.82 446.37 363.55 446.24 364.27 446.13 365.00 446.81 365.73 446.74 366.45 446.90 367.18 446.42 367.90 446.45 368.62 446.34 369.35 445.91 370.07 446.08 370.80 446.26 371.52 446.63 372.24 446.41 372.96 446.04 373.68 446.06 374.39 445.94 375.11 445.89 375.83 445.82 376.55 445.80 377.27 445.80 377.99 445.73 378.71 445.88 379.43 445.58 380.14 445.38 380.86 445.14 381.58 445.49 382.30 445.58 383.02 445.41 383.74 445.01 384.46 445.35 385.18 445.75 385.89 445.80 386.61 445.33 387.33 445.34 388.05 445.87 388.77 446.37 389.49 446.32 390.21 446.05 390.93 446.15 391.64 446.09 392.36 446.47 393.08 446.22 393.80 446.46 394.57 446.46 395.35 446.54 396.12 446.42 396.90 445.96 397.68 445.93 398.45 446.22 399.23 446.79 400.00 446.36 400.72 446.54 401.44 446.44 402.16 447.22 402.88 447.15 403.59 447.11 404.31 446.95 405.03 446.91 405.75 446.79 406.47 446.72 407.19 446.70 407.91 446.77 408.62 446.55 409.34 446.30 410.06 446.50 410.78 446.89 411.50 447.20 412.22 446.90 412.94 446.96 413.66 446.87 414.38 446.71 415.09 446.83 415.81 446.63 416.53 447.41 417.25 447.23 417.97 447.42 418.69 446.59 419.41 446.37 420.12 446.72 420.84 447.39 421.56 447.56 422.28 446.98 423.00 446.67 423.73 446.62 424.45 447.05 425.18 447.14 425.90 447.30 426.62 446.97 427.35 446.92 428.07 447.16 428.80 447.23 429.53 447.55 430.25 447.76 430.98 448.18 431.70 447.81 432.43 447.66 433.15 447.25 433.88 447.60 434.60 447.35 435.33 447.98 436.05 448.20 436.78 448.38 437.50 448.55 438.23 448.58 438.95 448.53 439.68 448.09 440.40 448.43 441.12 448.52 441.85 448.84 442.57 448.44 443.30 448.49 444.02 448.20 444.75 448.26 445.47 448.40 446.20 448.93 446.92 448.90 447.64 448.66 448.36 448.33 449.07 448.44 449.79 448.80 450.51 449.16 451.23 449.13 451.95 449.21 452.67 449.14 453.39 449.54 454.11 449.47 454.82 449.50 455.54 449.32 456.26 449.59 456.98 449.43 457.70 449.27 458.42 449.00 459.14 448.78 459.86 449.10 460.57 449.34 461.29 449.73 462.01 450.11 462.73 450.14 463.45 450.51 464.17 450.18 464.89 450.11 465.61 449.49 466.32 449.49 467.04 449.40 467.76 449.44 468.48 449.17 469.20 449.23 469.93 449.67 470.65 449.73 471.38 449.55 472.10 449.55 472.82 449.43 473.55 449.55 474.27 449.59 475.00 449.51 475.73 449.64 476.45 449.19 477.18 449.33 477.90 449.08 478.62 449.46 479.35 449.80 480.07 450.06 480.80 450.29 481.52 450.17 482.24 450.15 482.96 450.07 483.68 450.01 484.39 450.07 485.11 450.17 485.83 450.11 486.55 450.30 487.27 449.91 487.99 449.97 488.71 449.45 489.43 449.55 490.14 449.88 490.86 450.25 491.58 450.58 492.30 450.03 493.02 449.78 493.74 449.64 494.46 450.05 495.18 450.39 495.89 450.00 496.61 449.94 497.33 449.78 498.05 450.10 498.77 450.09 499.49 450.06 500.21 449.73 500.93 449.45 501.64 449.24 502.36 449.31 503.08 449.48 503.80 449.97 504.54 450.03 505.29 449.87 506.03 449.38 506.77 449.14 507.51 449.24 508.26 449.31 509.00 449.53 509.74 449.29 510.49 449.42 511.23 449.20 511.97 449.42 512.71 449.16 513.46 449.47 514.20 449.33" fill="none" stroke="#323b85" stroke-width="1.05" stroke-linejoin="round"/>
<path d="M298.10 454.48 298.67 454.03 299.23 453.61 299.80 453.26 300.37 452.65 300.93 451.93 301.50 451.20 301.75 450.35 302.00 449.75 302.25 448.96 302.50 448.48 302.75 448.22 303.00 447.24 303.25 446.50 303.50 445.73 303.75 445.35 304.00 444.79 304.25 444.20 304.50 443.34 304.75 442.63 305.00 441.83 305.70 442.32 306.40 442.38 307.10 442.44 307.80 442.96 308.50 443.69 309.16 444.53 309.81 445.07 310.47 445.08 311.13 445.27 311.79 445.52 312.44 446.42 313.10 446.53 313.68 446.69 314.25 446.85 314.83 447.58 315.40 448.22 315.98 448.93 316.55 449.21 317.12 449.42 317.70 449.35 318.27 449.97 318.85 450.23 319.43 450.78 320.00 450.81 320.71 451.12 321.42 451.29 322.12 451.56 322.83 452.36 323.54 452.66 324.25 452.77 324.95 452.57 325.66 452.96 326.37 453.11 327.08 453.22 327.78 452.95 328.49 453.43 329.20 453.83 329.90 454.38 330.60 454.00 331.30 454.23 332.00 454.07 332.70 454.20 333.40 453.70 334.10 453.44 334.80 453.23 335.50 453.40 336.20 453.31 336.83 452.97 337.45 452.50 338.08 452.20 338.71 451.80 339.34 451.24 339.96 450.70 340.59 450.62 341.22 450.42 341.85 449.95 342.47 449.27 343.10 448.91 343.76 448.75 344.41 448.83 345.07 448.42 345.73 448.35 346.39 447.41 347.04 447.24 347.70 446.94 348.36 447.18 349.01 446.87 349.67 446.66 350.33 446.22 350.99 446.05 351.64 445.72 352.30 445.38 353.01 444.86 353.72 444.70 354.42 444.77 355.13 444.38 355.84 443.80 356.55 443.75 357.25 443.97 357.96 444.69 358.67 444.04 359.38 443.82 360.08 443.02 360.79 443.22 361.50 443.35 362.23 443.71 362.95 443.38 363.68 443.30 364.40 442.74 365.12 442.94 365.85 442.70 366.57 442.99 367.30 442.75 368.03 442.91 368.75 442.75 369.48 442.84 370.20 442.51 370.93 442.29 371.65 442.38 372.38 442.44 373.10 442.68 373.81 442.76 374.52 442.42 375.22 442.16 375.93 441.70 376.64 441.89 377.35 441.79 378.05 441.83 378.76 441.64 379.47 441.23 380.18 440.81 380.88 440.24 381.59 440.38 382.30 440.30 383.03 440.84 383.76 440.98 384.49 441.10 385.23 441.28 385.96 441.41 386.69 441.26 387.42 440.97 388.15 440.97 388.88 441.57 389.62 441.71 390.35 441.68 391.08 441.48 391.81 441.71 392.54 441.79 393.27 441.85 394.01 441.69 394.74 441.66 395.47 441.52 396.20 441.78 396.93 441.84 397.65 442.15 398.38 442.16 399.11 442.50 399.83 441.98 400.56 441.79 401.28 441.46 402.01 441.98 402.74 442.36 403.46 443.11 404.19 443.48 404.92 443.65 405.64 443.32 406.37 443.03 407.09 442.94 407.82 442.54 408.55 442.84 409.27 442.81 410.00 443.38 410.72 443.09 411.44 442.95 412.17 442.78 412.89 443.02 413.61 443.34 414.33 443.46 415.06 443.59 415.78 443.71 416.50 443.63 417.22 443.60 417.94 443.26 418.67 443.43 419.39 443.68 420.11 443.89 420.83 444.39 421.56 444.38 422.28 444.73 423.00 444.47 423.73 444.61 424.45 444.73 425.18 444.80 425.90 444.62 426.62 444.40 427.35 444.80 428.07 444.94 428.80 445.03 429.53 444.63 430.25 444.43 430.98 444.50 431.70 444.76 432.43 445.05 433.15 445.08 433.88 445.17 434.60 445.42 435.33 445.55 436.05 445.60 436.78 445.41 437.50 445.71 438.23 445.54 438.95 445.73 439.68 445.67 440.40 445.84 441.12 445.76 441.85 446.18 442.57 446.61 443.30 446.57 444.02 446.28 444.75 445.84 445.47 446.28 446.20 446.09 446.92 446.50 447.64 446.62 448.36 447.24 449.07 447.43 449.79 447.32 450.51 447.26 451.23 447.03 451.95 447.17 452.67 446.98 453.39 446.82 454.11 447.02 454.82 446.82 455.54 447.17 456.26 447.23 456.98 447.70 457.70 447.53 458.42 447.39 459.14 447.56 459.86 448.11 460.57 448.59 461.29 448.20 462.01 448.16 462.73 447.85 463.45 448.38 464.17 448.06 464.89 448.19 465.61 448.25 466.32 448.51 467.04 448.54 467.76 448.30 468.48 448.69 469.20 448.58 469.93 448.67 470.65 448.48 471.38 448.74 472.10 449.37 472.82 449.55 473.55 449.53 474.27 449.33 475.00 449.42 475.73 449.69 476.45 449.65 477.18 449.75 477.90 449.56 478.62 449.43 479.35 449.34 480.07 449.43 480.80 449.85 481.52 450.32 482.24 450.79 482.96 450.79 483.68 450.54 484.39 450.24 485.11 449.96 485.83 450.05 486.55 449.95 487.27 450.28 487.99 450.20 488.71 450.65 489.43 450.65 490.14 450.73 490.86 450.54 491.58 450.26 492.30 450.22 493.02 450.52 493.74 451.09 494.46 451.47 495.18 451.24 495.89 450.94 496.61 450.89 497.33 451.06 498.05 451.76 498.77 451.76 499.49 451.64 500.21 451.14 500.93 451.43 501.64 451.45 502.36 451.64 503.08 451.17 503.80 451.87 504.54 451.79 505.29 451.89 506.03 451.33 506.77 451.31 507.51 451.07 508.26 451.33 509.00 451.90 509.74 452.42 510.49 452.49 511.23 451.92 511.97 452.00 512.71 451.99 513.46 452.09 514.20 451.94" fill="none" stroke="#c0303f" stroke-width="1.05" stroke-linejoin="round"/>
<path d="M45.2 519.3H265.2V603.3" fill="none" stroke="#777" stroke-width="1"/>
<path d="M45.2 519.3V603.3H265.2" fill="none" stroke="#555" stroke-width="1"/>
<path d="M45.20 603.3v3.2M60.33 603.3v1.8M75.45 603.3v1.8M90.58 603.3v1.8M105.70 603.3v3.2M120.83 603.3v1.8M135.95 603.3v1.8M151.07 603.3v1.8M166.20 603.3v3.2M181.32 603.3v1.8M196.45 603.3v1.8M211.57 603.3v1.8M226.70 603.3v3.2M241.82 603.3v1.8M256.95 603.3v1.8" stroke="#555" stroke-width="0.9"/>
<path d="M45.2 602.88h-1.3M45.2 597.94h-1.3M45.2 593.00h-3.0M45.2 588.06h-1.3M45.2 583.12h-1.3M45.2 578.19h-1.3M45.2 573.25h-3.0M45.2 568.31h-1.3M45.2 563.38h-1.3M45.2 558.44h-1.3M45.2 553.50h-3.0M45.2 548.56h-1.3M45.2 543.62h-1.3M45.2 538.69h-1.3M45.2 533.75h-3.0M45.2 528.81h-1.3M45.2 523.88h-1.3M45.2 518.94h-1.3" stroke="#555" stroke-width="0.9"/>
<text x="40.00" y="595.50" class="tk" text-anchor="end" textLength="8.59" lengthAdjust="spacingAndGlyphs">0.4</text>
<text x="40.00" y="575.75" class="tk" text-anchor="end" textLength="8.59" lengthAdjust="spacingAndGlyphs">0.6</text>
<text x="40.00" y="556.00" class="tk" text-anchor="end" textLength="8.59" lengthAdjust="spacingAndGlyphs">0.8</text>
<text x="40.00" y="536.25" class="tk" text-anchor="end" textLength="3.43" lengthAdjust="spacingAndGlyphs">1</text>
<text x="45.20" y="616.80" class="tk" text-anchor="middle" textLength="3.43" lengthAdjust="spacingAndGlyphs">0</text>
<text x="105.70" y="616.80" class="tk" text-anchor="middle" textLength="10.30" lengthAdjust="spacingAndGlyphs">100</text>
<text x="166.20" y="616.80" class="tk" text-anchor="middle" textLength="10.30" lengthAdjust="spacingAndGlyphs">200</text>
<text x="226.70" y="616.80" class="tk" text-anchor="middle" textLength="10.30" lengthAdjust="spacingAndGlyphs">300</text>
<path d="M45.80 599.45 46.37 598.93 46.94 598.23 47.51 599.26 48.09 598.46 48.66 598.64 49.23 598.40 49.80 598.80 50.37 598.46 50.94 597.93 51.51 598.35 52.09 597.75 52.66 597.92 53.23 598.55 53.80 597.20 54.35 597.28 54.89 597.64 55.44 597.66 55.99 598.57 56.54 597.28 57.08 599.16 57.63 598.90 58.18 598.01 58.72 598.37 59.27 598.18 59.82 598.73 60.36 598.79 60.91 598.89 61.46 598.96 62.01 599.58 62.55 598.66 63.10 599.13 63.67 598.83 64.23 599.05 64.80 599.25 65.37 599.24 65.93 599.55 66.50 599.10 67.03 599.22 67.55 598.80 68.08 598.33 68.61 598.33 69.14 598.22 69.66 598.18 70.19 597.31 70.72 597.71 71.25 597.09 71.77 597.03 72.30 597.29 72.72 597.35 73.14 596.59 73.55 595.85 73.97 595.50 74.39 595.97 74.81 594.20 75.23 595.13 75.65 593.52 76.06 593.55 76.48 593.49 76.90 593.00 77.39 593.60 77.88 592.77 78.37 592.24 78.86 592.43 79.35 591.72 79.84 591.05 80.33 591.67 80.82 591.57 81.31 591.19 81.79 589.76 82.28 590.92 82.77 589.56 83.26 589.83 83.75 589.75 84.24 590.03 84.73 587.88 85.22 587.88 85.71 588.63 86.20 588.03 86.70 587.38 87.20 585.89 87.70 587.20 88.20 586.63 88.70 585.23 89.20 587.44 89.70 584.74 90.20 585.38 90.70 585.37 91.20 585.21 91.70 585.19 92.20 584.44 92.70 583.87 93.20 583.86 93.70 582.77 94.20 582.96 94.70 584.15 95.20 582.63 95.70 582.64 96.20 583.30 96.70 582.63 97.20 581.93 97.70 581.95 98.22 581.26 98.75 580.76 99.27 581.44 99.79 580.83 100.31 581.31 100.84 580.22 101.36 579.96 101.88 580.09 102.40 579.63 102.93 579.36 103.45 578.88 103.97 579.21 104.50 579.03 105.02 579.53 105.54 578.45 106.06 577.43 106.59 578.26 107.11 578.91 107.63 577.42 108.15 577.04 108.68 577.13 109.20 575.65 109.73 576.63 110.25 576.48 110.78 575.65 111.31 576.42 111.84 575.52 112.36 574.85 112.89 575.17 113.42 575.59 113.95 575.98 114.47 575.45 115.00 574.74 115.53 574.20 116.05 574.10 116.58 574.46 117.11 573.55 117.64 573.78 118.16 573.82 118.69 572.73 119.22 572.66 119.75 572.94 120.27 572.52 120.80 572.24 121.35 571.91 121.90 571.98 122.44 572.74 122.99 572.37 123.54 570.83 124.09 571.47 124.63 571.34 125.18 571.17 125.73 570.37 126.28 570.81 126.82 570.80 127.37 570.26 127.92 570.59 128.47 569.15 129.01 569.45 129.56 570.06 130.11 570.05 130.66 569.65 131.20 569.37 131.75 569.53 132.30 569.81 132.85 569.58 133.40 568.98 133.94 568.65 134.49 569.23 135.04 568.84 135.59 568.86 136.13 568.17 136.68 567.75 137.23 568.10 137.78 567.58 138.32 568.27 138.87 567.99 139.42 566.42 139.97 567.61 140.51 567.78 141.06 567.50 141.61 566.65 142.16 566.32 142.70 567.04 143.25 566.92 143.80 566.33 144.36 565.57 144.93 565.20 145.49 565.85 146.05 565.15 146.62 565.03 147.18 565.36 147.75 565.46 148.31 563.80 148.87 564.27 149.44 565.00 150.00 564.18 150.48 563.75 150.96 563.93 151.44 562.80 151.92 562.48 152.40 562.77 152.88 563.21 153.35 562.67 153.83 561.90 154.31 562.09 154.79 561.13 155.27 560.48 155.75 559.96 156.23 560.59 156.71 560.60 157.19 560.06 157.67 559.58 158.15 559.12 158.62 559.54 159.10 558.72 159.58 557.77 160.06 558.81 160.54 557.57 161.02 557.77 161.50 557.30 162.02 557.59 162.55 557.00 163.07 557.25 163.59 556.56 164.11 556.04 164.64 555.81 165.16 556.14 165.68 555.24 166.20 555.86 166.73 555.10 167.25 554.56 167.77 554.38 168.30 554.51 168.82 555.21 169.34 554.53 169.86 553.96 170.39 553.32 170.91 554.43 171.43 553.20 171.95 553.12 172.48 552.71 173.00 553.33 173.53 552.57 174.05 552.07 174.58 552.16 175.11 551.39 175.64 551.16 176.16 551.37 176.69 549.88 177.22 551.58 177.75 551.76 178.27 550.09 178.80 550.33 179.33 549.45 179.85 550.06 180.38 549.87 180.91 549.91 181.44 548.73 181.96 548.86 182.49 548.63 183.02 548.61 183.55 549.59 184.07 548.22 184.60 548.08 185.13 547.65 185.65 548.06 186.18 548.68 186.71 547.81 187.24 547.78 187.76 546.34 188.29 547.14 188.82 546.44 189.35 546.81 189.87 546.51 190.40 546.11 190.93 544.80 191.45 545.44 191.98 544.94 192.51 545.17 193.04 544.77 193.56 545.04 194.09 543.58 194.62 543.78 195.15 543.88 195.67 543.86 196.20 543.31 196.72 543.27 197.25 543.10 197.77 543.35 198.29 542.59 198.81 542.55 199.34 541.36 199.86 540.77 200.38 541.10 200.90 541.75 201.43 540.28 201.95 541.34 202.47 540.89 203.00 540.72 203.52 540.17 204.04 540.10 204.56 540.47 205.09 540.04 205.61 539.64 206.13 539.21 206.65 539.33 207.18 539.58 207.70 538.79 208.20 538.38 208.70 537.75 209.20 538.10 209.70 537.38 210.20 536.88 210.70 537.72 211.20 536.77 211.70 535.86 212.20 536.23 212.70 537.19 213.20 536.02 213.70 535.20 214.20 535.06 214.70 535.67 215.20 535.27 215.70 534.94 216.20 534.49 216.70 534.57 217.20 534.82 217.70 534.07 218.20 533.52 218.70 532.69 219.20 533.31 219.75 533.71 220.30 533.14 220.86 532.11 221.41 532.65 221.96 533.05 222.51 532.00 223.07 532.40 223.62 532.60 224.17 532.67 224.72 531.02 225.28 530.81 225.83 531.68 226.38 531.70 226.93 531.07 227.49 531.09 228.04 530.77 228.59 531.40 229.14 529.65 229.70 530.69 230.25 529.83 230.80 529.98 231.35 529.47 231.90 529.65 232.44 529.96 232.99 529.87 233.54 530.60 234.09 529.54 234.63 529.70 235.18 529.59 235.73 529.44 236.28 529.90 236.82 529.16 237.37 529.06 237.92 528.82 238.47 528.77 239.01 528.63 239.56 529.02 240.11 528.45 240.66 528.36 241.20 528.20 241.75 528.47 242.30 527.78 242.84 528.27 243.38 527.38 243.92 527.80 244.46 528.20 245.01 527.23 245.55 526.90 246.09 526.21 246.63 526.94 247.17 526.42 247.71 526.67 248.25 525.75 248.79 526.13 249.34 526.56 249.88 525.72 250.42 525.20 250.96 524.56 251.50 525.00 252.05 525.31 252.60 525.28 253.16 524.47 253.71 524.51 254.26 524.54 254.81 524.52 255.37 524.87 255.92 525.13 256.47 525.91 257.02 525.09 257.58 525.69 258.13 524.22 258.68 525.73 259.23 525.38 259.79 525.21 260.34 525.39 260.89 525.29 261.44 525.91 262.00 525.38 262.55 524.18 263.10 524.17" fill="none" stroke="#c0303f" stroke-width="1.05" stroke-linejoin="round"/>
<path d="M45.80 599.56 46.37 598.68 46.94 599.27 47.51 598.40 48.09 598.18 48.66 598.24 49.23 598.48 49.80 598.34 50.37 597.88 50.94 598.35 51.51 598.31 52.09 597.50 52.66 597.33 53.23 596.85 53.80 597.55 54.35 597.77 54.89 597.50 55.44 597.61 55.99 597.90 56.54 598.04 57.08 598.36 57.63 598.55 58.18 598.42 58.72 598.81 59.27 597.89 59.82 598.70 60.36 598.65 60.91 598.05 61.46 598.29 62.01 598.88 62.55 598.77 63.10 598.20 63.67 598.65 64.23 599.76 64.80 599.55 65.37 599.31 65.93 600.02 66.50 599.07 67.03 599.21 67.55 599.54 68.08 598.71 68.61 598.13 69.14 598.73 69.66 599.01 70.19 596.83 70.72 597.90 71.25 597.03 71.77 597.27 72.30 596.53 72.72 598.06 73.14 596.13 73.55 596.10 73.97 595.37 74.39 594.87 74.81 594.75 75.23 594.69 75.65 595.05 76.06 593.98 76.48 594.22 76.90 592.59 77.37 592.80 77.83 592.23 78.30 591.37 78.76 593.55 79.23 591.34 79.69 591.24 80.16 590.43 80.62 590.19 81.09 589.64 81.55 590.29 82.02 589.28 82.48 589.07 82.95 588.90 83.41 587.90 83.88 588.26 84.34 587.74 84.81 587.70 85.27 586.98 85.73 586.85 86.20 586.75 86.68 586.69 87.16 585.63 87.64 586.15 88.12 584.95 88.60 585.06 89.08 584.94 89.55 584.67 90.03 583.15 90.51 583.60 90.99 583.70 91.47 583.96 91.95 582.92 92.43 583.70 92.91 581.85 93.39 582.47 93.87 582.42 94.35 581.90 94.83 581.75 95.30 581.80 95.78 580.70 96.26 581.09 96.74 581.05 97.22 580.16 97.70 578.90 98.22 579.23 98.75 579.19 99.27 578.88 99.79 579.39 100.31 578.60 100.84 579.95 101.36 578.84 101.88 577.74 102.40 578.02 102.93 578.68 103.45 578.07 103.97 577.06 104.50 577.83 105.02 576.91 105.54 577.98 106.06 576.47 106.59 576.81 107.11 576.59 107.63 575.90 108.15 575.84 108.68 576.25 109.20 575.74 109.73 575.27 110.25 575.30 110.78 575.72 111.31 575.12 111.84 574.70 112.36 574.43 112.89 573.33 113.42 573.93 113.95 573.43 114.47 573.80 115.00 572.96 115.53 573.26 116.05 572.34 116.58 573.06 117.11 572.09 117.64 572.21 118.16 572.30 118.69 571.66 119.22 571.62 119.75 571.91 120.27 572.04 120.80 570.14 121.35 570.44 121.90 571.06 122.44 571.06 122.99 570.26 123.54 570.40 124.09 570.14 124.63 571.18 125.18 569.88 125.73 569.28 126.28 568.98 126.82 568.98 127.37 570.08 127.92 569.14 128.47 570.12 129.01 569.37 129.56 569.12 130.11 569.12 130.66 569.06 131.20 568.99 131.75 567.97 132.30 568.04 132.85 567.92 133.40 568.11 133.94 567.82 134.49 567.24 135.04 567.38 135.59 568.43 136.13 568.47 136.68 566.94 137.23 567.41 137.78 567.09 138.32 566.59 138.87 567.21 139.42 566.72 139.97 567.42 140.51 566.73 141.06 566.25 141.61 565.02 142.16 566.11 142.70 566.44 143.25 565.58 143.80 566.22 144.38 566.07 144.96 564.85 145.54 565.54 146.12 565.73 146.71 565.88 147.29 565.54 147.87 565.40 148.45 565.19 149.03 565.16 149.61 565.24 150.19 564.68 150.78 565.43 151.36 564.91 151.94 565.26 152.52 564.72 153.10 565.09 153.66 564.96 154.22 565.32 154.78 565.12 155.34 565.34 155.90 564.82 156.46 564.87 157.02 564.78 157.58 564.31 158.14 564.84 158.70 565.42 159.26 565.27 159.82 564.50 160.38 565.04 160.94 565.26 161.50 564.26 162.07 565.07 162.65 565.06 163.22 565.26 163.80 565.02 164.38 564.07 164.95 563.95 165.53 565.84 166.10 564.71 166.68 565.50 167.25 565.50 167.82 564.94 168.40 564.36 168.97 565.55 169.55 564.88 170.12 565.15 170.70 565.13 171.28 565.35 171.85 565.38 172.43 564.23 173.00 564.23 173.55 564.97 174.10 564.90 174.66 565.27 175.21 564.84 175.76 564.81 176.31 565.86 176.87 565.55 177.42 565.45 177.97 565.39 178.52 564.53 179.08 564.86 179.63 564.87 180.18 564.38 180.73 564.49 181.29 564.98 181.84 564.33 182.39 565.16 182.94 565.12 183.50 564.79 184.05 564.74 184.60 565.19 185.15 565.15 185.70 565.12 186.26 564.39 186.81 564.23 187.36 565.99 187.91 564.73 188.47 564.89 189.02 564.23 189.57 564.74 190.12 564.79 190.68 565.54 191.23 563.93 191.78 564.55 192.33 565.04 192.89 565.03 193.44 564.91 193.99 565.10 194.54 564.58 195.10 565.48 195.65 565.94 196.20 565.47 196.77 565.00 197.35 565.70 197.93 565.18 198.50 564.31 199.07 564.38 199.65 564.21 200.23 564.33 200.80 564.77 201.35 563.92 201.90 564.25 202.44 564.42 202.99 563.87 203.54 564.26 204.09 564.83 204.63 565.14 205.18 563.77 205.73 565.05 206.28 564.63 206.82 565.44 207.37 565.18 207.92 565.88 208.47 565.15 209.01 564.87 209.56 564.72 210.11 564.49 210.66 565.49 211.20 565.53 211.75 565.73 212.30 565.57 212.85 564.75 213.40 565.31 213.94 565.44 214.49 565.69 215.04 566.02 215.59 566.39 216.13 565.90 216.68 564.84 217.23 565.39 217.78 564.91 218.32 565.62 218.87 565.46 219.42 566.19 219.97 566.03 220.51 566.71 221.06 566.75 221.61 566.08 222.16 566.79 222.70 566.40 223.25 566.66 223.80 567.14 224.35 566.01 224.90 566.58 225.46 567.40 226.01 566.37 226.56 566.89 227.11 566.91 227.67 566.70 228.22 566.34 228.77 566.69 229.32 566.61 229.88 567.64 230.43 567.30 230.98 567.58 231.53 566.74 232.09 567.60 232.64 567.48 233.19 567.97 233.74 567.19 234.30 567.97 234.85 568.29 235.40 568.56 235.95 567.31 236.50 567.27 237.04 567.17 237.59 568.37 238.14 568.24 238.69 568.18 239.23 567.66 239.78 568.71 240.33 568.93 240.88 568.21 241.42 568.22 241.97 568.89 242.52 568.62 243.07 569.07 243.61 568.30 244.16 568.70 244.71 568.43 245.26 568.37 245.80 568.56 246.35 568.61 246.90 569.04 247.47 568.80 248.05 569.12 248.62 568.84 249.20 568.79 249.78 570.19 250.35 569.19 250.93 570.65 251.50 570.38 252.08 568.99 252.65 569.92 253.23 570.16 253.80 570.51 254.38 570.42 254.96 570.22 255.54 571.09 256.12 570.44 256.71 570.96 257.29 570.18 257.87 570.17 258.45 571.13 259.03 570.37 259.61 569.98 260.19 570.42 260.78 570.99 261.36 570.42 261.94 570.16 262.52 570.80 263.10 570.96" fill="none" stroke="#323b85" stroke-width="1.05" stroke-linejoin="round"/>
<path d="M297.6 520.5H514.9V602.2" fill="none" stroke="#777" stroke-width="1"/>
<path d="M297.6 520.5V602.2H514.9" fill="none" stroke="#555" stroke-width="1"/>
<path d="M297.50 602.2v3.2M305.68 602.2v1.8M313.86 602.2v1.8M322.04 602.2v1.8M330.22 602.2v1.8M338.40 602.2v3.2M346.58 602.2v1.8M354.76 602.2v1.8M362.94 602.2v1.8M371.12 602.2v1.8M379.30 602.2v3.2M387.48 602.2v1.8M395.66 602.2v1.8M403.84 602.2v1.8M412.02 602.2v1.8M420.20 602.2v3.2M428.38 602.2v1.8M436.56 602.2v1.8M444.74 602.2v1.8M452.92 602.2v1.8M461.10 602.2v3.2M469.28 602.2v1.8M477.46 602.2v1.8M485.64 602.2v1.8M493.82 602.2v1.8M502.00 602.2v3.2M510.18 602.2v1.8" stroke="#555" stroke-width="0.9"/>
<path d="M297.6 602.50h-1.3M297.6 597.38h-1.3M297.6 592.25h-1.3M297.6 587.12h-1.3M297.6 582.00h-3.0M297.6 576.88h-1.3M297.6 571.75h-1.3M297.6 566.62h-1.3M297.6 561.50h-3.0M297.6 556.38h-1.3M297.6 551.25h-1.3M297.6 546.12h-1.3M297.6 541.00h-3.0M297.6 535.88h-1.3M297.6 530.75h-1.3M297.6 525.62h-1.3M297.6 520.50h-3.0" stroke="#555" stroke-width="0.9"/>
<text x="292.40" y="584.50" class="tk" text-anchor="end" textLength="8.59" lengthAdjust="spacingAndGlyphs">0.4</text>
<text x="292.40" y="564.00" class="tk" text-anchor="end" textLength="8.59" lengthAdjust="spacingAndGlyphs">0.6</text>
<text x="292.40" y="543.50" class="tk" text-anchor="end" textLength="8.59" lengthAdjust="spacingAndGlyphs">0.8</text>
<text x="292.40" y="523.00" class="tk" text-anchor="end" textLength="3.43" lengthAdjust="spacingAndGlyphs">1</text>
<text x="297.50" y="615.60" class="tk" text-anchor="middle" textLength="3.43" lengthAdjust="spacingAndGlyphs">0</text>
<text x="338.40" y="615.60" class="tk" text-anchor="middle" textLength="6.87" lengthAdjust="spacingAndGlyphs">50</text>
<text x="379.30" y="615.60" class="tk" text-anchor="middle" textLength="10.30" lengthAdjust="spacingAndGlyphs">100</text>
<text x="420.20" y="615.60" class="tk" text-anchor="middle" textLength="10.30" lengthAdjust="spacingAndGlyphs">150</text>
<text x="461.10" y="615.60" class="tk" text-anchor="middle" textLength="10.30" lengthAdjust="spacingAndGlyphs">200</text>
<text x="502.00" y="615.60" class="tk" text-anchor="middle" textLength="10.30" lengthAdjust="spacingAndGlyphs">250</text>
<path d="M298.10 591.84 298.81 592.01 299.51 592.01 300.22 592.10 300.93 592.13 301.63 592.18 302.34 592.03 303.05 592.06 303.75 592.02 304.46 592.04 305.16 592.03 305.87 592.08 306.58 592.04 307.28 592.06 307.99 592.08 308.70 592.11 309.40 592.18 310.11 592.24 310.82 592.23 311.52 592.34 312.23 592.33 312.94 592.34 313.64 592.37 314.35 592.37 315.05 592.29 315.76 592.39 316.47 592.46 317.17 592.50 317.88 592.69 318.59 592.78 319.29 592.82 320.00 592.78 320.70 592.81 321.40 592.75 322.10 592.71 322.80 592.73 323.50 592.73 324.20 592.64 324.90 592.58 325.60 592.56 326.30 592.52 327.00 592.51 327.70 592.55 328.40 592.48 329.10 592.51 329.80 592.53 330.50 592.56 331.20 592.57 331.90 592.68 332.60 592.64 333.30 592.55 334.00 592.57 334.70 592.57 335.40 592.51 336.10 592.52 336.80 592.61 337.50 592.57 338.20 592.55 338.90 592.55 339.60 592.62 340.30 592.56 341.00 592.57 341.70 592.65 342.40 592.62 343.10 592.63 343.68 592.20 344.25 591.77 344.83 591.25 345.40 590.83 345.98 590.37 346.55 589.84 347.12 589.41 347.70 588.97 348.27 588.51 348.85 588.04 349.43 587.78 350.00 587.41 350.66 587.10 351.31 586.82 351.97 586.49 352.63 586.13 353.29 585.71 353.94 585.33 354.60 585.02 355.26 584.67 355.91 584.26 356.57 584.00 357.23 583.64 357.89 583.28 358.54 583.00 359.20 582.71 359.88 582.37 360.56 582.19 361.25 581.95 361.93 581.79 362.61 581.59 363.29 581.38 363.98 581.20 364.66 581.00 365.34 580.70 366.02 580.42 366.71 580.21 367.39 579.89 368.07 579.61 368.75 579.42 369.44 579.26 370.12 579.11 370.80 578.92 371.52 578.83 372.24 578.56 372.96 578.35 373.68 578.09 374.39 577.99 375.11 577.76 375.83 577.67 376.55 577.49 377.27 577.41 377.99 577.27 378.71 577.15 379.43 577.11 380.14 577.02 380.86 576.83 381.58 576.67 382.30 576.56 383.02 576.43 383.74 576.35 384.46 576.38 385.18 576.32 385.89 576.21 386.61 576.12 387.33 576.05 388.05 575.84 388.77 575.68 389.49 575.59 390.21 575.38 390.93 575.28 391.64 575.23 392.36 575.21 393.08 575.14 393.80 575.14 394.50 575.12 395.20 575.13 395.90 575.06 396.60 575.02 397.30 575.06 398.00 575.04 398.70 575.02 399.40 575.04 400.10 575.10 400.80 575.00 401.50 574.96 402.20 574.90 402.90 574.75 403.60 574.69 404.30 574.61 405.00 574.58 405.71 574.50 406.43 574.57 407.14 574.51 407.86 574.63 408.57 574.61 409.29 574.65 410.00 574.58 410.71 574.57 411.43 574.47 412.14 574.44 412.86 574.39 413.57 574.38 414.29 574.40 415.00 574.38 415.71 574.35 416.43 574.37 417.14 574.35 417.86 574.31 418.57 574.29 419.29 574.27 420.00 574.24 420.71 574.23 421.43 574.17 422.14 574.19 422.86 574.20 423.57 574.14 424.29 574.15 425.00 574.19 425.71 574.26 426.43 574.36 427.14 574.50 427.86 574.61 428.57 574.65 429.29 574.68 430.00 574.76 430.71 574.80 431.43 574.85 432.14 574.97 432.86 575.10 433.57 575.20 434.29 575.26 435.00 575.32 435.71 575.38 436.43 575.37 437.14 575.35 437.86 575.47 438.57 575.53 439.29 575.54 440.00 575.70 440.71 575.85 441.43 575.94 442.14 576.03 442.86 576.13 443.57 576.17 444.29 576.24 445.00 576.21 445.71 576.28 446.43 576.40 447.14 576.46 447.86 576.53 448.57 576.69 449.29 576.81 450.00 576.85 450.71 576.92 451.43 577.09 452.14 577.14 452.86 577.27 453.57 577.30 454.29 577.43 455.00 577.41 455.71 577.59 456.43 577.68 457.14 577.86 457.86 577.90 458.57 577.96 459.29 577.94 460.00 577.92 460.71 577.97 461.43 578.05 462.14 578.14 462.86 578.29 463.57 578.44 464.29 578.43 465.00 578.50 465.71 578.56 466.43 578.63 467.14 578.63 467.86 578.84 468.57 578.97 469.29 579.10 470.00 579.09 470.71 579.17 471.43 579.21 472.14 579.28 472.86 579.23 473.57 579.33 474.29 579.42 475.00 579.47 475.71 579.50 476.43 579.70 477.14 579.79 477.86 579.91 478.57 579.97 479.29 580.07 480.00 580.07 480.71 580.08 481.43 580.12 482.14 580.20 482.86 580.29 483.57 580.35 484.29 580.42 485.00 580.44 485.71 580.46 486.43 580.49 487.14 580.60 487.86 580.67 488.57 580.72 489.29 580.82 490.00 580.92 490.71 581.03 491.43 581.15 492.14 581.19 492.86 581.19 493.57 581.19 494.29 581.17 495.00 581.23 495.71 581.32 496.43 581.40 497.14 581.48 497.86 581.54 498.57 581.61 499.29 581.68 500.00 581.74 500.69 581.84 501.38 582.03 502.06 582.15 502.75 582.27 503.44 582.44 504.12 582.66 504.81 582.73 505.50 582.88 506.19 583.02 506.88 583.18 507.56 583.23 508.25 583.39 508.94 583.56 509.62 583.75 510.31 583.89 511.00 584.08 511.69 584.26 512.38 584.39 513.06 584.51 513.75 584.66" fill="none" stroke="#323b85" stroke-width="1.05" stroke-linejoin="round"/>
<path d="M298.10 591.84 298.81 591.92 299.51 591.93 300.22 591.89 300.93 591.92 301.63 592.04 302.34 591.99 303.05 592.02 303.75 592.01 304.46 592.06 305.16 592.11 305.87 592.27 306.58 592.27 307.28 592.31 307.99 592.40 308.70 592.30 309.40 592.17 310.11 592.22 310.82 592.24 311.52 592.15 312.23 592.25 312.94 592.31 313.64 592.28 314.35 592.35 315.05 592.42 315.76 592.44 316.47 592.49 317.17 592.62 317.88 592.67 318.59 592.77 319.29 592.79 320.00 592.82 320.70 592.78 321.40 592.73 322.10 592.61 322.80 592.52 323.50 592.55 324.20 592.44 324.90 592.41 325.60 592.42 326.30 592.46 327.00 592.39 327.70 592.49 328.40 592.51 329.10 592.54 329.80 592.52 330.50 592.47 331.20 592.47 331.90 592.42 332.60 592.43 333.30 592.48 334.00 592.60 334.70 592.62 335.40 592.73 336.10 592.68 336.80 592.70 337.50 592.71 338.20 592.70 338.90 592.61 339.60 592.67 340.30 592.63 341.00 592.55 341.70 592.57 342.40 592.61 343.10 592.55 343.73 592.17 344.35 591.89 344.98 591.45 345.61 591.11 346.24 590.79 346.86 590.48 347.49 590.03 348.12 589.65 348.75 589.23 349.37 588.81 350.00 588.49 350.66 588.26 351.31 588.03 351.97 587.85 352.63 587.67 353.29 587.31 353.94 587.08 354.60 586.85 355.26 586.60 355.91 586.38 356.57 586.13 357.23 585.85 357.89 585.59 358.54 585.34 359.20 585.04 359.88 584.85 360.56 584.66 361.25 584.41 361.93 584.14 362.61 583.95 363.29 583.73 363.98 583.49 364.66 583.28 365.34 583.03 366.02 582.72 366.71 582.44 367.39 582.18 368.07 581.91 368.75 581.74 369.44 581.51 370.12 581.30 370.80 581.10 371.52 580.98 372.24 580.73 372.96 580.65 373.68 580.51 374.39 580.34 375.11 580.26 375.83 580.21 376.55 580.00 377.27 579.84 377.99 579.64 378.71 579.44 379.43 579.32 380.14 579.18 380.86 579.07 381.58 578.93 382.30 578.79 383.02 578.68 383.74 578.68 384.46 578.57 385.18 578.56 385.89 578.54 386.61 578.32 387.33 578.10 388.05 578.06 388.77 578.03 389.49 577.89 390.21 577.89 390.93 577.87 391.64 577.71 392.36 577.50 393.08 577.39 393.80 577.28 394.50 577.27 395.20 577.26 395.90 577.29 396.60 577.28 397.30 577.22 398.00 577.21 398.70 577.06 399.40 576.99 400.10 576.95 400.80 576.94 401.50 576.93 402.20 576.95 402.90 576.87 403.60 576.81 404.30 576.82 405.00 576.74 405.71 576.74 406.43 576.75 407.14 576.69 407.86 576.60 408.57 576.52 409.29 576.41 410.00 576.34 410.71 576.30 411.43 576.29 412.14 576.20 412.86 576.17 413.57 576.09 414.29 576.04 415.00 575.92 415.71 575.90 416.43 575.81 417.14 575.80 417.86 575.79 418.57 575.77 419.29 575.72 420.00 575.68 420.71 575.57 421.43 575.49 422.14 575.40 422.86 575.31 423.57 575.29 424.29 575.28 425.00 575.21 425.71 575.25 426.43 575.33 427.14 575.33 427.86 575.35 428.57 575.40 429.29 575.49 430.00 575.56 430.71 575.59 431.43 575.69 432.14 575.67 432.86 575.67 433.57 575.72 434.29 575.87 435.00 575.86 435.71 575.92 436.43 575.95 437.14 575.89 437.86 575.83 438.57 575.84 439.29 575.86 440.00 575.95 440.71 576.05 441.43 576.19 442.14 576.32 442.86 576.45 443.57 576.46 444.29 576.55 445.00 576.49 445.71 576.55 446.43 576.59 447.14 576.71 447.86 576.78 448.57 576.95 449.29 576.97 450.00 576.97 450.71 577.05 451.43 577.20 452.14 577.14 452.86 577.32 453.57 577.47 454.29 577.53 455.00 577.51 455.71 577.67 456.43 577.72 457.14 577.79 457.86 577.87 458.57 578.00 459.29 578.19 460.00 578.27 460.71 578.32 461.43 578.38 462.14 578.41 462.86 578.36 463.57 578.37 464.29 578.53 465.00 578.62 465.71 578.76 466.43 578.88 467.14 578.96 467.86 579.00 468.57 579.06 469.29 579.18 470.00 579.32 470.71 579.43 471.43 579.52 472.14 579.52 472.86 579.51 473.57 579.61 474.29 579.63 475.00 579.71 475.71 579.90 476.43 579.96 477.14 579.94 477.86 580.02 478.57 580.09 479.29 580.12 480.00 580.26 480.71 580.38 481.43 580.46 482.14 580.59 482.86 580.64 483.57 580.63 484.29 580.64 485.00 580.67 485.71 580.62 486.43 580.70 487.14 580.82 487.86 580.83 488.57 580.88 489.29 580.93 490.00 580.98 490.71 581.03 491.43 581.13 492.14 581.30 492.86 581.37 493.57 581.44 494.29 581.49 495.00 581.63 495.71 581.64 496.43 581.73 497.14 581.78 497.86 581.85 498.57 581.89 499.29 581.93 500.00 581.99 500.72 582.08 501.45 582.19 502.17 582.35 502.89 582.56 503.62 582.69 504.34 582.82 505.07 583.04 505.79 583.13 506.51 583.31 507.24 583.43 507.96 583.69 508.68 583.73 509.41 583.93 510.13 584.01 510.86 584.12 511.58 584.27 512.30 584.54 513.03 584.66 513.75 584.79" fill="none" stroke="#c0303f" stroke-width="1.05" stroke-linejoin="round"/>
<text x="227.3" y="15.9" style="font-size:10.3px;font-weight:bold;font-style:normal" textLength="22.44" lengthAdjust="spacingAndGlyphs" fill="#111" stroke="#000" stroke-width="0.2">fMLF</text>
<text x="480.08" y="15.6" style="font-size:10.3px;font-weight:bold;font-style:normal" textLength="28.1" lengthAdjust="spacingAndGlyphs" fill="#111" stroke="#000" stroke-width="0.2">MIP-2</text>
<text x="231.8" y="160.3" style="font-size:10.3px;font-weight:bold;font-style:normal" textLength="22.65" lengthAdjust="spacingAndGlyphs" fill="#111" stroke="#000" stroke-width="0.2">fMLF</text>
<text x="446.4" y="158.9" style="font-size:10.3px;font-weight:bold;font-style:normal" textLength="60.56" lengthAdjust="spacingAndGlyphs" fill="#111" stroke="#000" stroke-width="0.2">fMLF + EGTA</text>
<text x="231.01" y="278.1" style="font-size:10.3px;font-weight:bold;font-style:normal" textLength="27.15" lengthAdjust="spacingAndGlyphs" fill="#111" stroke="#000" stroke-width="0.2">MIP-2</text>
<text x="443.92" y="278.1" style="font-size:10.3px;font-weight:bold;font-style:normal" textLength="65.83" lengthAdjust="spacingAndGlyphs" fill="#111" stroke="#000" stroke-width="0.2">MIP-2 + EGTA</text>
<text x="231.22" y="392.4" style="font-size:10.3px;font-weight:bold;font-style:normal" textLength="10.08" lengthAdjust="spacingAndGlyphs" fill="#111" stroke="#000" stroke-width="0.2">IC</text>
<text x="459.57" y="394.0" style="font-size:10.3px;font-weight:bold;font-style:normal" textLength="48.76" lengthAdjust="spacingAndGlyphs" fill="#111" stroke="#000" stroke-width="0.2">IC + EGTA</text>
<text x="56.4" y="534.5" style="font-size:10.3px;font-weight:bold;font-style:normal" textLength="12.57" lengthAdjust="spacingAndGlyphs" fill="#111" stroke="#000" stroke-width="0.2">TG</text>
<text x="305.3" y="536.6" style="font-size:10.3px;font-weight:bold;font-style:normal" textLength="51.78" lengthAdjust="spacingAndGlyphs" fill="#111" stroke="#000" stroke-width="0.2">TG + EGTA</text>
<text x="55.7" y="15.4" style="font-size:10.2px;font-weight:bold;font-style:normal" textLength="28.17" lengthAdjust="spacingAndGlyphs" fill="#111">0.2μM</text>
<text x="55.16" y="27.4" style="font-size:10.2px;font-weight:bold;font-style:normal" textLength="19.21" lengthAdjust="spacingAndGlyphs" fill="#111">1μM</text>
<text x="55.7" y="39.3" style="font-size:10.2px;font-weight:bold;font-style:normal" textLength="18.66" lengthAdjust="spacingAndGlyphs" fill="#111">5μM</text>
<text x="305.4" y="17.0" style="font-size:9.4px;font-weight:bold;font-style:normal" textLength="29.51" lengthAdjust="spacingAndGlyphs" fill="#111">2ng/ml</text>
<text x="304.37" y="28.6" style="font-size:9.4px;font-weight:bold;font-style:normal" textLength="36.58" lengthAdjust="spacingAndGlyphs" fill="#111">10ng/ml</text>
<text x="304.37" y="40.2" style="font-size:9.4px;font-weight:bold;font-style:normal" textLength="36.58" lengthAdjust="spacingAndGlyphs" fill="#111">50ng/ml</text>
<rect x="47.4" y="8.1" width="6.6" height="6.80" fill="#d9502c"/>
<rect x="47.4" y="19.3" width="6.6" height="7.30" fill="#4a50a8"/>
<rect x="47.4" y="31.2" width="6.6" height="7.40" fill="#8cb84c"/>
<rect x="296.8" y="10.3" width="7.3" height="7.40" fill="#d9502c"/>
<rect x="296.8" y="21.7" width="7.3" height="7.40" fill="#4a50a8"/>
<rect x="296.8" y="33.4" width="7.3" height="7.40" fill="#8cb84c"/>
<path d="M79.7 104.05V118.7" stroke="#000" stroke-width="1.45"/>
<path d="M79.7 98.75L76.9 104.55H82.5Z" fill="#000"/>
<path d="M332.3 101.8V116.9" stroke="#000" stroke-width="1.45"/>
<path d="M332.3 96.5L329.5 102.3H335.1Z" fill="#000"/>
<path d="M78.75 240.3V254" stroke="#000" stroke-width="1.45"/>
<path d="M78.75 235L75.95 240.8H81.55Z" fill="#000"/>
<path d="M332 241.8V254.5" stroke="#000" stroke-width="1.45"/>
<path d="M332 236.5L329.2 242.3H334.8Z" fill="#000"/>
<path d="M77.6 354.8V368.7" stroke="#000" stroke-width="1.45"/>
<path d="M77.6 349.5L74.8 355.3H80.39999999999999Z" fill="#000"/>
<path d="M331.6 353.90000000000003V368.3" stroke="#000" stroke-width="1.45"/>
<path d="M331.6 348.6L328.8 354.40000000000003H334.40000000000003Z" fill="#000"/>
<path d="M69.3 471.6V486.5" stroke="#000" stroke-width="1.45"/>
<path d="M69.3 466.3L66.5 472.1H72.1Z" fill="#000"/>
<path d="M324.1 468.7V483.7" stroke="#000" stroke-width="1.45"/>
<path d="M324.1 463.4L321.3 469.2H326.90000000000003Z" fill="#000"/>
<path d="M68.6 611.9V626.6" stroke="#000" stroke-width="1.45"/>
<path d="M68.6 606.6L65.8 612.4H71.39999999999999Z" fill="#000"/>
<path d="M323.3 613.0999999999999V627.5" stroke="#000" stroke-width="1.45"/>
<path d="M323.3 607.8L320.5 613.5999999999999H326.1Z" fill="#000"/>
<text x="-0.6" y="13.3" class="big">A</text>
<text x="0.2" y="153.7" class="big">B</text>
<text x="0.0" y="272.3" class="big">C</text>
<text x="0.2" y="384.9" class="big">D</text>
<text x="0.2" y="526.4" class="big">E</text>
<path d="M21.5 60V499.3" stroke="#111" stroke-width="1.4"/>
<path d="M21.5 55.9L18.9 61.8H24.1Z" fill="#111"/>
<g transform="translate(24.1 602.1) rotate(-90)"><text x="-0.65" y="0.4" style="font-size:10.0px;font-weight:bold;font-style:normal" textLength="74.1" lengthAdjust="spacingAndGlyphs" fill="#111">Relative calcium</text></g>
<text x="45.8" y="648.8" style="font-size:10.0px;font-weight:bold;font-style:normal" textLength="51.9" lengthAdjust="spacingAndGlyphs" fill="#111">Time (secs)</text>
<path d="M102.5 644.2H453" stroke="#000" stroke-width="1.25"/>
<path d="M458.7 644.2L452.3 641.6V646.8Z" fill="#000"/>
<rect x="44.4" y="661.9" width="11.4" height="13.9" fill="#d01c2c"/>
<rect x="44.4" y="678" width="11.4" height="14" fill="#3f5eab"/>
<text x="58.9" y="675.0" style="font-size:10.4px;font-weight:normal;font-style:normal" textLength="14.24" lengthAdjust="spacingAndGlyphs" fill="#111" stroke="#000" stroke-width="0.25">WT</text>
<text x="59.1" y="687.2" style="font-size:10.4px;font-weight:normal;font-style:italic" textLength="22.97" lengthAdjust="spacingAndGlyphs" fill="#111" stroke="#000" stroke-width="0.25">stim1</text>
<text x="82.8" y="684.0" style="font-size:9.6px;font-weight:normal;font-style:italic" textLength="9.87" lengthAdjust="spacingAndGlyphs" fill="#111" stroke="#000" stroke-width="0.25">-/-</text>
</svg>
</body></html>
